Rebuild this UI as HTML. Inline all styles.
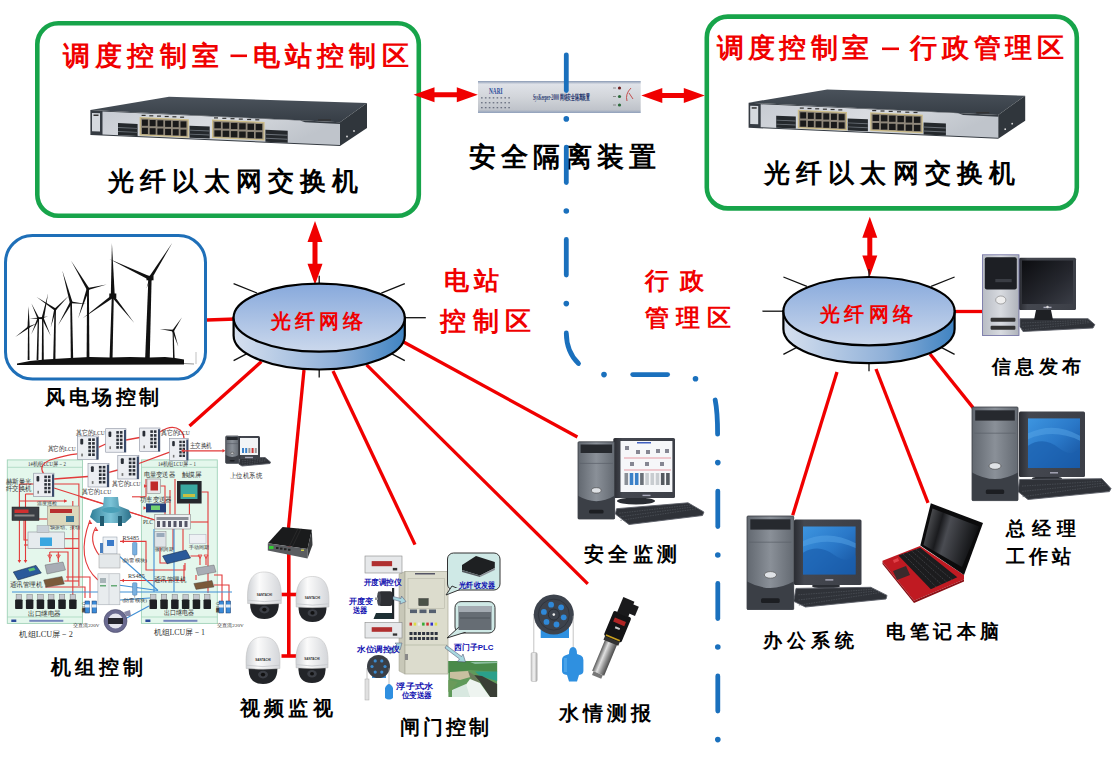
<!DOCTYPE html>
<html><head><meta charset="utf-8"><style>
html,body{margin:0;padding:0;background:#fff;}
body{width:1113px;height:762px;overflow:hidden;}
svg{display:block;font-family:"Liberation Sans",sans-serif;}
</style></head><body>
<svg width="1113" height="762" viewBox="0 0 1113 762">
<defs>
<linearGradient id="topA" x1="0" y1="0" x2="0" y2="1"><stop offset="0" stop-color="#87a9dc"/><stop offset="1" stop-color="#cbd8ec"/></linearGradient>
<linearGradient id="sideA" x1="0" y1="0" x2="1" y2="0"><stop offset="0" stop-color="#d6e0ef"/><stop offset="0.6" stop-color="#8fb0d8"/><stop offset="1" stop-color="#3f83c2"/></linearGradient>
<linearGradient id="swfront" x1="0" y1="0" x2="1" y2="0.3"><stop offset="0" stop-color="#c7cbd2"/><stop offset="0.5" stop-color="#d9dce1"/><stop offset="1" stop-color="#bfc4cb"/></linearGradient><linearGradient id="swtop" x1="0" y1="0" x2="0" y2="1"><stop offset="0" stop-color="#4a525b"/><stop offset="1" stop-color="#363d45"/></linearGradient>
<linearGradient id="silver" x1="0" y1="0" x2="0" y2="1"><stop offset="0" stop-color="#8a9ab4"/><stop offset="0.1" stop-color="#dfe2e8"/><stop offset="0.5" stop-color="#d2d5da"/><stop offset="0.9" stop-color="#bfc3ca"/><stop offset="1" stop-color="#8fa0bc"/></linearGradient>
</defs>

<rect x="37.3" y="23.3" width="381.5" height="192.5" rx="21" fill="#fff" stroke="#17a44a" stroke-width="4.6"/>
<rect x="706.8" y="16.6" width="370" height="191.8" rx="21" fill="#fff" stroke="#17a44a" stroke-width="4.6"/>
<text x="62.5" y="64.5" font-size="27.0" fill="#f00000" font-weight="bold" text-anchor="start" textLength="156.5" lengthAdjust="spacing" >调度控制室</text>
<rect x="230.5" y="54.5" width="16.5" height="2.6" fill="#f00000"/>
<text x="252.7" y="64.5" font-size="27.0" fill="#f00000" font-weight="bold" text-anchor="start" textLength="156.0" lengthAdjust="spacing" >电站控制区</text>
<text x="716.5" y="57.0" font-size="27.0" fill="#f00000" font-weight="bold" text-anchor="start" textLength="152.5" lengthAdjust="spacing" >调度控制室</text>
<rect x="882" y="47.5" width="17" height="2.6" fill="#f00000"/>
<text x="910.4" y="57.0" font-size="27.0" fill="#f00000" font-weight="bold" text-anchor="start" textLength="153.5" lengthAdjust="spacing" >行政管理区</text>
<polygon fill="url(#swtop)" points="90.4,110.0 169.0,96.8 367.0,103.0 340.0,122.3"/><polygon fill="#30363c" points="340.0,122.3 367.0,103.0 367.0,128.0 340.0,146.0"/><circle cx="347.0" cy="136.5" r="0.9" fill="#ddd"/><circle cx="354.0" cy="131.0" r="0.9" fill="#ddd"/><polygon fill="#353b42" points="90.4,110.0 340.0,122.3 340.0,146.0 90.4,135.0"/><polygon fill="url(#swfront)" points="102.5,111.6 300.0,120.5 305.0,122.2 340.0,124.0 340.0,145.0 102.5,134.5 102.5,111.6"/><polygon fill="#d5d9de" points="92.0,113.0 100.0,113.3 100.0,131.5 92.0,131.2"/><rect x="93.5" y="114.5" width="5" height="1.5" fill="#333"/><polygon fill="#24282c" points="118.0,123.0 137.6,123.9 137.6,135.9 118.0,135.0"/><polygon fill="#6a7077" points="118.0,127.0 137.6,127.9 137.6,128.8 118.0,127.9"/><polygon fill="#6a7077" points="118.0,131.0 137.6,131.9 137.6,132.8 118.0,131.9"/><polygon fill="#24282c" points="189.5,125.7 209.7,126.6 209.7,138.6 189.5,137.7"/><polygon fill="#6a7077" points="189.5,129.7 209.7,130.6 209.7,131.5 189.5,130.6"/><polygon fill="#6a7077" points="189.5,133.7 209.7,134.6 209.7,135.5 189.5,134.6"/><polygon fill="#24282c" points="265.4,129.8 287.7,130.8 287.7,142.8 265.4,141.8"/><polygon fill="#6a7077" points="265.4,133.8 287.7,134.8 287.7,135.7 265.4,134.7"/><polygon fill="#6a7077" points="265.4,137.8 287.7,138.8 287.7,139.7 265.4,138.7"/><polygon fill="#cdbd88" points="139.6,117.0 188.8,119.3 188.8,137.8 139.6,135.5"/><polygon fill="#8f877a" points="140.8,118.2 187.6,120.5 187.6,136.6 140.8,134.3"/><rect x="142.0" y="119.6" width="5.9" height="6.2" fill="#1a1a1a"/><rect x="149.7" y="120.0" width="5.9" height="6.2" fill="#1a1a1a"/><rect x="157.4" y="120.3" width="5.9" height="6.2" fill="#1a1a1a"/><rect x="165.1" y="120.7" width="5.9" height="6.2" fill="#1a1a1a"/><rect x="172.8" y="121.0" width="5.9" height="6.2" fill="#1a1a1a"/><rect x="180.5" y="121.4" width="5.9" height="6.2" fill="#1a1a1a"/><rect x="142.0" y="127.8" width="5.9" height="6.2" fill="#1a1a1a"/><rect x="149.7" y="128.2" width="5.9" height="6.2" fill="#1a1a1a"/><rect x="157.4" y="128.5" width="5.9" height="6.2" fill="#1a1a1a"/><rect x="165.1" y="128.9" width="5.9" height="6.2" fill="#1a1a1a"/><rect x="172.8" y="129.2" width="5.9" height="6.2" fill="#1a1a1a"/><rect x="180.5" y="129.6" width="5.9" height="6.2" fill="#1a1a1a"/><rect x="141.6" y="114.8" width="4" height="1.2" fill="#333"/><rect x="149.3" y="115.2" width="4" height="1.2" fill="#333"/><rect x="157.0" y="115.5" width="4" height="1.2" fill="#333"/><rect x="164.7" y="115.9" width="4" height="1.2" fill="#333"/><rect x="172.4" y="116.2" width="4" height="1.2" fill="#333"/><rect x="180.1" y="116.6" width="4" height="1.2" fill="#333"/><polygon fill="#cdbd88" points="212.0,119.5 264.6,122.0 264.6,140.5 212.0,138.0"/><polygon fill="#8f877a" points="213.2,120.7 263.4,123.2 263.4,139.3 213.2,136.8"/><rect x="214.4" y="122.1" width="6.5" height="6.2" fill="#1a1a1a"/><rect x="222.7" y="122.5" width="6.5" height="6.2" fill="#1a1a1a"/><rect x="230.9" y="122.9" width="6.5" height="6.2" fill="#1a1a1a"/><rect x="239.2" y="123.3" width="6.5" height="6.2" fill="#1a1a1a"/><rect x="247.5" y="123.7" width="6.5" height="6.2" fill="#1a1a1a"/><rect x="255.7" y="124.0" width="6.5" height="6.2" fill="#1a1a1a"/><rect x="214.4" y="130.3" width="6.5" height="6.2" fill="#1a1a1a"/><rect x="222.7" y="130.7" width="6.5" height="6.2" fill="#1a1a1a"/><rect x="230.9" y="131.1" width="6.5" height="6.2" fill="#1a1a1a"/><rect x="239.2" y="131.5" width="6.5" height="6.2" fill="#1a1a1a"/><rect x="247.5" y="131.9" width="6.5" height="6.2" fill="#1a1a1a"/><rect x="255.7" y="132.2" width="6.5" height="6.2" fill="#1a1a1a"/><rect x="214.0" y="117.3" width="4" height="1.2" fill="#333"/><rect x="222.3" y="117.7" width="4" height="1.2" fill="#333"/><rect x="230.5" y="118.1" width="4" height="1.2" fill="#333"/><rect x="238.8" y="118.5" width="4" height="1.2" fill="#333"/><rect x="247.1" y="118.9" width="4" height="1.2" fill="#333"/><rect x="255.3" y="119.2" width="4" height="1.2" fill="#333"/><rect x="318.0" y="119.3" width="13" height="1.4" fill="#333"/>
<polygon fill="url(#swtop)" points="748.6,102.7 827.2,89.5 1025.2,95.7 998.2,115.0"/><polygon fill="#30363c" points="998.2,115.0 1025.2,95.7 1025.2,120.7 998.2,138.7"/><circle cx="1005.2" cy="129.2" r="0.9" fill="#ddd"/><circle cx="1012.2" cy="123.7" r="0.9" fill="#ddd"/><polygon fill="#353b42" points="748.6,102.7 998.2,115.0 998.2,138.7 748.6,127.7"/><polygon fill="url(#swfront)" points="760.7,104.3 958.2,113.2 963.2,114.9 998.2,116.7 998.2,137.7 760.7,127.2 760.7,104.3"/><polygon fill="#d5d9de" points="750.2,105.7 758.2,106.0 758.2,124.2 750.2,123.9"/><rect x="751.7" y="107.2" width="5" height="1.5" fill="#333"/><polygon fill="#24282c" points="776.2,115.7 795.8,116.6 795.8,128.6 776.2,127.7"/><polygon fill="#6a7077" points="776.2,119.7 795.8,120.6 795.8,121.5 776.2,120.6"/><polygon fill="#6a7077" points="776.2,123.7 795.8,124.6 795.8,125.5 776.2,124.6"/><polygon fill="#24282c" points="847.7,118.4 867.9,119.3 867.9,131.3 847.7,130.4"/><polygon fill="#6a7077" points="847.7,122.4 867.9,123.3 867.9,124.2 847.7,123.3"/><polygon fill="#6a7077" points="847.7,126.4 867.9,127.3 867.9,128.2 847.7,127.3"/><polygon fill="#24282c" points="923.6,122.5 945.9,123.5 945.9,135.5 923.6,134.5"/><polygon fill="#6a7077" points="923.6,126.5 945.9,127.5 945.9,128.4 923.6,127.4"/><polygon fill="#6a7077" points="923.6,130.5 945.9,131.5 945.9,132.4 923.6,131.4"/><polygon fill="#cdbd88" points="797.8,109.7 847.0,112.0 847.0,130.5 797.8,128.2"/><polygon fill="#8f877a" points="799.0,110.9 845.8,113.2 845.8,129.3 799.0,127.0"/><rect x="800.2" y="112.3" width="5.9" height="6.2" fill="#1a1a1a"/><rect x="807.9" y="112.7" width="5.9" height="6.2" fill="#1a1a1a"/><rect x="815.6" y="113.0" width="5.9" height="6.2" fill="#1a1a1a"/><rect x="823.3" y="113.4" width="5.9" height="6.2" fill="#1a1a1a"/><rect x="831.0" y="113.7" width="5.9" height="6.2" fill="#1a1a1a"/><rect x="838.7" y="114.1" width="5.9" height="6.2" fill="#1a1a1a"/><rect x="800.2" y="120.5" width="5.9" height="6.2" fill="#1a1a1a"/><rect x="807.9" y="120.9" width="5.9" height="6.2" fill="#1a1a1a"/><rect x="815.6" y="121.2" width="5.9" height="6.2" fill="#1a1a1a"/><rect x="823.3" y="121.6" width="5.9" height="6.2" fill="#1a1a1a"/><rect x="831.0" y="121.9" width="5.9" height="6.2" fill="#1a1a1a"/><rect x="838.7" y="122.3" width="5.9" height="6.2" fill="#1a1a1a"/><rect x="799.8" y="107.5" width="4" height="1.2" fill="#333"/><rect x="807.5" y="107.9" width="4" height="1.2" fill="#333"/><rect x="815.2" y="108.2" width="4" height="1.2" fill="#333"/><rect x="822.9" y="108.6" width="4" height="1.2" fill="#333"/><rect x="830.6" y="108.9" width="4" height="1.2" fill="#333"/><rect x="838.3" y="109.3" width="4" height="1.2" fill="#333"/><polygon fill="#cdbd88" points="870.2,112.2 922.8,114.7 922.8,133.2 870.2,130.7"/><polygon fill="#8f877a" points="871.4,113.4 921.6,115.9 921.6,132.0 871.4,129.5"/><rect x="872.6" y="114.8" width="6.5" height="6.2" fill="#1a1a1a"/><rect x="880.9" y="115.2" width="6.5" height="6.2" fill="#1a1a1a"/><rect x="889.1" y="115.6" width="6.5" height="6.2" fill="#1a1a1a"/><rect x="897.4" y="116.0" width="6.5" height="6.2" fill="#1a1a1a"/><rect x="905.7" y="116.4" width="6.5" height="6.2" fill="#1a1a1a"/><rect x="913.9" y="116.7" width="6.5" height="6.2" fill="#1a1a1a"/><rect x="872.6" y="123.0" width="6.5" height="6.2" fill="#1a1a1a"/><rect x="880.9" y="123.4" width="6.5" height="6.2" fill="#1a1a1a"/><rect x="889.1" y="123.8" width="6.5" height="6.2" fill="#1a1a1a"/><rect x="897.4" y="124.2" width="6.5" height="6.2" fill="#1a1a1a"/><rect x="905.7" y="124.6" width="6.5" height="6.2" fill="#1a1a1a"/><rect x="913.9" y="124.9" width="6.5" height="6.2" fill="#1a1a1a"/><rect x="872.2" y="110.0" width="4" height="1.2" fill="#333"/><rect x="880.5" y="110.4" width="4" height="1.2" fill="#333"/><rect x="888.7" y="110.8" width="4" height="1.2" fill="#333"/><rect x="897.0" y="111.2" width="4" height="1.2" fill="#333"/><rect x="905.3" y="111.6" width="4" height="1.2" fill="#333"/><rect x="913.5" y="111.9" width="4" height="1.2" fill="#333"/><rect x="976.2" y="112.0" width="13" height="1.4" fill="#333"/>
<text x="108.0" y="190.0" font-size="26.0" fill="#000" font-weight="bold" text-anchor="start" textLength="250.0" lengthAdjust="spacing" >光纤以太网交换机</text>
<text x="764.0" y="182.0" font-size="26.0" fill="#000" font-weight="bold" text-anchor="start" textLength="251.0" lengthAdjust="spacing" >光纤以太网交换机</text>
<rect x="478" y="81" width="162.7" height="32" fill="url(#silver)"/>
<text x="489" y="93.5" font-size="7.5" fill="#2b4c9a" font-weight="bold" font-family="Liberation Serif" textLength="13.5" lengthAdjust="spacingAndGlyphs">NARI</text>
<text x="533" y="100" font-size="8" fill="#2a3a70" font-weight="bold" font-family="Liberation Serif" textLength="57" lengthAdjust="spacingAndGlyphs">SysKeeper-2000 网络安全隔离装置</text>
<rect x="481.0" y="97.2" width="1.6" height="1.3" fill="#6a7080"/>
<rect x="484.9" y="97.2" width="1.6" height="1.3" fill="#6a7080"/>
<rect x="488.8" y="97.2" width="1.6" height="1.3" fill="#6a7080"/>
<rect x="492.7" y="97.2" width="1.6" height="1.3" fill="#6a7080"/>
<rect x="496.6" y="97.2" width="1.6" height="1.3" fill="#6a7080"/>
<rect x="500.5" y="97.2" width="1.6" height="1.3" fill="#6a7080"/>
<rect x="504.4" y="97.2" width="1.6" height="1.3" fill="#6a7080"/>
<rect x="508.3" y="97.2" width="1.6" height="1.3" fill="#6a7080"/>
<rect x="481.0" y="102.1" width="1.6" height="1.3" fill="#6a7080"/>
<rect x="484.9" y="102.1" width="1.6" height="1.3" fill="#6a7080"/>
<rect x="488.8" y="102.1" width="1.6" height="1.3" fill="#6a7080"/>
<rect x="492.7" y="102.1" width="1.6" height="1.3" fill="#6a7080"/>
<rect x="496.6" y="102.1" width="1.6" height="1.3" fill="#6a7080"/>
<rect x="500.5" y="102.1" width="1.6" height="1.3" fill="#6a7080"/>
<rect x="504.4" y="102.1" width="1.6" height="1.3" fill="#6a7080"/>
<rect x="508.3" y="102.1" width="1.6" height="1.3" fill="#6a7080"/>
<rect x="481.0" y="107.0" width="1.6" height="1.3" fill="#6a7080"/>
<rect x="484.9" y="107.0" width="1.6" height="1.3" fill="#6a7080"/>
<rect x="488.8" y="107.0" width="1.6" height="1.3" fill="#6a7080"/>
<rect x="492.7" y="107.0" width="1.6" height="1.3" fill="#6a7080"/>
<rect x="496.6" y="107.0" width="1.6" height="1.3" fill="#6a7080"/>
<rect x="500.5" y="107.0" width="1.6" height="1.3" fill="#6a7080"/>
<rect x="504.4" y="107.0" width="1.6" height="1.3" fill="#6a7080"/>
<rect x="508.3" y="107.0" width="1.6" height="1.3" fill="#6a7080"/>
<circle cx="619.5" cy="88.0" r="1.6" fill="#702020"/>
<rect x="613" y="87.5" width="3" height="1" fill="#888"/>
<circle cx="619.5" cy="96.5" r="1.6" fill="#2a6a3a"/>
<rect x="613" y="96.0" width="3" height="1" fill="#888"/>
<circle cx="619.5" cy="105.0" r="1.6" fill="#2a6a3a"/>
<rect x="613" y="104.5" width="3" height="1" fill="#888"/>
<path d="M631,88 Q625,94 627,101 M629,93 L633,99" stroke="#c04040" stroke-width="0.9" fill="none"/>
<text x="469.0" y="165.5" font-size="27.0" fill="#000" font-weight="bold" text-anchor="start" textLength="187.0" lengthAdjust="spacing" >安全隔离装置</text>
<polygon fill="#f00000" points="413.5,94.8 434.5,87.3 434.5,92.3 456.8,92.3 456.8,87.3 477.8,94.8 456.8,102.3 456.8,97.3 434.5,97.3 434.5,102.3"/>
<polygon fill="#f00000" points="641.3,95.5 662.3,88.0 662.3,93.0 683.8,93.0 683.8,88.0 704.8,95.5 683.8,103.0 683.8,98.0 662.3,98.0 662.3,103.0"/>
<polygon fill="#f00000" points="315.0,221.0 322.5,242.0 317.5,242.0 317.5,263.7 322.5,263.7 315.0,284.7 307.5,263.7 312.5,263.7 312.5,242.0 307.5,242.0"/>
<polygon fill="#f00000" points="869.8,216.7 877.3,237.7 872.3,237.7 872.3,255.5 877.3,255.5 869.8,276.5 862.3,255.5 867.3,255.5 867.3,237.7 862.3,237.7"/>
<path stroke="#1a70bd" stroke-width="4.8" stroke-linecap="round" fill="none" d="M566.3,54.8 L566.3,90.6"/>
<path stroke="#1a70bd" stroke-width="4.8" stroke-linecap="round" fill="none" d="M566.3,147.1 L566.3,182.6"/>
<path stroke="#1a70bd" stroke-width="4.8" stroke-linecap="round" fill="none" d="M566.3,239.4 L566.3,275.0"/>
<circle cx="566.3" cy="118.9" r="2.8" fill="#1a70bd"/>
<circle cx="566.3" cy="211.0" r="2.8" fill="#1a70bd"/>
<circle cx="566.3" cy="303.6" r="2.8" fill="#1a70bd"/>
<path stroke="#1a70bd" stroke-width="4.8" stroke-linecap="round" fill="none" d="M566.3,333 Q566.5,352 578.5,363.5"/>
<circle cx="604" cy="374.6" r="2.8" fill="#1a70bd"/>
<path stroke="#1a70bd" stroke-width="4.8" stroke-linecap="round" fill="none" d="M632.7,374.6 L667.6,374.6"/>
<circle cx="695.5" cy="378.8" r="2.8" fill="#1a70bd"/>
<path stroke="#1a70bd" stroke-width="4.8" stroke-linecap="round" fill="none" d="M715.2,400 Q717.6,412 717.6,434.2"/>
<path stroke="#1a70bd" stroke-width="4.8" stroke-linecap="round" fill="none" d="M717.8,491.1 L717.8,526.6"/>
<path stroke="#1a70bd" stroke-width="4.8" stroke-linecap="round" fill="none" d="M717.8,583.4 L717.8,618.6"/>
<path stroke="#1a70bd" stroke-width="4.8" stroke-linecap="round" fill="none" d="M717.8,675.9 L717.8,711.1"/>
<circle cx="717.8" cy="462.6" r="2.8" fill="#1a70bd"/>
<circle cx="717.8" cy="555.0" r="2.8" fill="#1a70bd"/>
<circle cx="717.8" cy="647.0" r="2.8" fill="#1a70bd"/>
<circle cx="717.8" cy="739.6" r="2.8" fill="#1a70bd"/>
<text x="444.0" y="289.0" font-size="25.0" fill="#f00000" font-weight="bold" text-anchor="start" textLength="55.0" lengthAdjust="spacing" >电站</text>
<text x="440.0" y="329.5" font-size="25.5" fill="#f00000" font-weight="bold" text-anchor="start" textLength="91.0" lengthAdjust="spacing" >控制区</text>
<text x="644.5" y="288.5" font-size="24.0" fill="#f00000" font-weight="bold" text-anchor="start" textLength="59.5" lengthAdjust="spacing" >行政</text>
<text x="644.5" y="325.5" font-size="24.0" fill="#f00000" font-weight="bold" text-anchor="start" textLength="86.5" lengthAdjust="spacing" >管理区</text>
<path stroke="#f00000" stroke-width="3.3" fill="none" d="M207,320 L236,319"/>
<path stroke="#f00000" stroke-width="3.3" fill="none" d="M261.5,361.5 L189.5,426"/>
<path stroke="#f00000" stroke-width="3.3" fill="none" d="M304,370 L288.5,528"/>
<path stroke="#f00000" stroke-width="3.3" fill="none" d="M333,371 L415,544.6"/>
<path stroke="#f00000" stroke-width="3.3" fill="none" d="M366.6,364.8 L587.8,583.8"/>
<path stroke="#f00000" stroke-width="3.3" fill="none" d="M400,340 L577.4,437"/>
<path stroke="#f00000" stroke-width="3.3" fill="none" d="M954,311.5 L982,311.5"/>
<path stroke="#f00000" stroke-width="3.3" fill="none" d="M837,372 L792.7,515.3"/>
<path stroke="#f00000" stroke-width="3.3" fill="none" d="M876,369 L928,502.8"/>
<path stroke="#f00000" stroke-width="3.3" fill="none" d="M930,354 L973,407.6"/>
<line stroke="#111" stroke-width="1.3" x1="319.2" y1="275.7" x2="319.2" y2="283.7"/><line stroke="#111" stroke-width="1.3" x1="233.6" y1="283.7" x2="257.1" y2="293.1"/><line stroke="#111" stroke-width="1.3" x1="404.8" y1="283.7" x2="381.3" y2="293.1"/><line stroke="#111" stroke-width="1.3" x1="425.8" y1="317.7" x2="404.8" y2="317.7"/><line stroke="#111" stroke-width="1.3" x1="233.6" y1="360.7" x2="247.0" y2="353.7"/><line stroke="#111" stroke-width="1.3" x1="404.8" y1="360.7" x2="391.4" y2="353.7"/><line stroke="#111" stroke-width="1.3" x1="319.2" y1="369.5" x2="319.2" y2="377.5"/>
<line stroke="#111" stroke-width="1.3" x1="869.0" y1="269.0" x2="869.0" y2="277.0"/><line stroke="#111" stroke-width="1.3" x1="783.4" y1="277.0" x2="806.9" y2="286.4"/><line stroke="#111" stroke-width="1.3" x1="954.6" y1="277.0" x2="931.1" y2="286.4"/><line stroke="#111" stroke-width="1.3" x1="762.4" y1="311.2" x2="783.4" y2="311.2"/><line stroke="#111" stroke-width="1.3" x1="783.4" y1="354.4" x2="796.8" y2="347.4"/><line stroke="#111" stroke-width="1.3" x1="954.6" y1="354.4" x2="941.2" y2="347.4"/><line stroke="#111" stroke-width="1.3" x1="869.0" y1="363.2" x2="869.0" y2="371.2"/>
<path d="M233.6,317.7 L233.6,335.5 A85.6,34.0 0 0 0 404.8,335.5 L404.8,317.7 Z" fill="url(#sideA)" stroke="#000" stroke-width="2.2"/><ellipse cx="319.2" cy="317.7" rx="85.6" ry="34.0" fill="url(#topA)" stroke="#000" stroke-width="2.2"/>
<path d="M783.4,311.2 L783.4,329.0 A85.6,34.2 0 0 0 954.6,329.0 L954.6,311.2 Z" fill="url(#sideA)" stroke="#000" stroke-width="2.2"/><ellipse cx="869.0" cy="311.2" rx="85.6" ry="34.2" fill="url(#topA)" stroke="#000" stroke-width="2.2"/>
<text x="271.0" y="327.5" font-size="20.0" fill="#f00000" font-weight="bold" text-anchor="start" textLength="92.0" lengthAdjust="spacing" >光纤网络</text>
<text x="820.0" y="320.5" font-size="20.0" fill="#f00000" font-weight="bold" text-anchor="start" textLength="93.0" lengthAdjust="spacing" >光纤网络</text>
<rect x="5.5" y="235.5" width="200" height="143.5" rx="27" fill="#fff" stroke="#1e6fb8" stroke-width="3"/>
<g>
<polygon fill="#111" points="28.0,327.2 29.2,327.2 29.5,360.0 27.7,360.0"/><polygon fill="#111" points="28.0,326.4 29.2,327.9 15.3,336.9"/><polygon fill="#111" points="29.7,327.2 27.5,327.2 28.6,305.9"/><polygon fill="#111" points="28.9,327.8 28.3,326.5 36.6,323.6"/><circle cx="28.6" cy="327.2" r="1.0" fill="#111"/>
<polygon fill="#111" points="37.8,318.3 39.0,318.3 38.4,360.0 36.6,360.0"/><polygon fill="#111" points="39.2,317.9 37.5,318.7 31.3,303.2"/><polygon fill="#111" points="38.5,319.1 38.2,317.5 48.1,316.5"/><polygon fill="#111" points="37.5,317.9 39.3,318.7 31.3,334.3"/><circle cx="38.4" cy="318.3" r="1.0" fill="#111"/>
<polygon fill="#111" points="42.1,318.3 43.4,318.3 43.8,360.0 41.8,360.0"/><polygon fill="#111" points="44.0,318.6 41.6,318.1 48.1,293.5"/><polygon fill="#111" points="41.8,318.7 43.7,317.9 50.8,336.0"/><polygon fill="#111" points="42.8,317.4 42.8,319.2 29.5,318.3"/><circle cx="42.8" cy="318.3" r="1.0" fill="#111"/>
<polygon fill="#111" points="54.5,309.4 55.9,309.4 55.4,360.0 53.2,360.0"/><polygon fill="#111" points="55.8,308.5 54.6,310.4 36.6,297.0"/><polygon fill="#111" points="55.9,310.2 54.5,308.7 68.5,296.1"/><polygon fill="#111" points="54.2,309.2 56.2,309.7 50.8,327.2"/><circle cx="55.2" cy="309.4" r="1.0" fill="#111"/>
<polygon fill="#111" points="70.3,302.4 71.9,302.4 73.2,360.0 70.8,360.0"/><polygon fill="#111" points="72.5,302.0 69.8,302.7 62.3,270.4"/><polygon fill="#111" points="71.0,303.3 71.3,301.4 86.2,304.1"/><polygon fill="#111" points="70.1,301.7 72.2,303.0 57.9,325.4"/><circle cx="71.1" cy="302.4" r="1.1" fill="#111"/>
<polygon fill="#111" points="87.1,289.1 88.9,289.1 89.4,360.0 86.6,360.0"/><polygon fill="#111" points="89.2,288.3 86.8,289.8 71.1,260.7"/><polygon fill="#111" points="88.2,290.1 87.7,288.1 106.6,284.6"/><polygon fill="#111" points="86.7,288.6 89.3,289.5 78.2,318.3"/><circle cx="88.0" cy="289.1" r="1.3" fill="#111"/>
<polygon fill="#111" points="111.8,296.1 113.8,296.1 112.5,360.0 109.5,360.0"/><polygon fill="#111" points="114.8,296.1 110.8,296.2 111.9,243.0"/><polygon fill="#111" points="111.7,297.1 113.9,295.2 134.1,322.7"/><polygon fill="#111" points="111.9,294.9 113.7,297.4 82.7,318.3"/><circle cx="112.8" cy="296.1" r="1.4" fill="#111"/>
<polygon fill="#111" points="148.4,278.4 151.6,278.4 149.7,360.0 145.1,360.0"/><polygon fill="#111" points="151.4,279.3 148.6,277.5 172.2,243.0"/><polygon fill="#111" points="150.8,276.8 149.3,280.0 109.3,258.9"/><polygon fill="#111" points="149.3,278.2 150.8,278.7 146.5,288.2"/><circle cx="150.0" cy="278.4" r="2.2" fill="#111"/>
<rect x="146.5" y="275.8" width="7" height="4.5" fill="#111"/>
<polygon fill="#111" points="172.6,330.7 173.6,330.7 174.7,360.0 173.1,360.0"/><polygon fill="#111" points="173.9,331.2 172.3,330.2 181.9,317.4"/><polygon fill="#111" points="173.2,329.8 172.9,331.6 159.8,328.9"/><polygon fill="#111" points="172.1,331.0 174.0,330.4 178.4,346.7"/><circle cx="173.1" cy="330.7" r="1.0" fill="#111"/>
<path fill="#111" d="M17,363.5 L30,361 L45,359.5 L70,358 L90,357 L110,357.5 L130,357 L150,357.5 L165,357 L175,358 L184,359.5 L184,364.5 L17,365 Z"/>
<rect x="109.3" y="293.5" width="7" height="4.5" fill="#111"/>
<line x1="184" y1="363.5" x2="194" y2="364" stroke="#777" stroke-width="0.8"/><line x1="196" y1="352" x2="196" y2="364" stroke="#999" stroke-width="0.6"/>
</g>
<text x="45.0" y="404.0" font-size="19.5" fill="#000" font-weight="bold" text-anchor="start" textLength="114.0" lengthAdjust="spacing" >风电场控制</text>
<defs>
<linearGradient id="bluescr" x1="0" y1="0" x2="1" y2="1"><stop offset="0" stop-color="#3d95e0"/><stop offset="0.5" stop-color="#2a78c8"/><stop offset="1" stop-color="#144f9a"/></linearGradient>
<linearGradient id="blackscr" x1="0" y1="0" x2="1" y2="1"><stop offset="0" stop-color="#0c0d10"/><stop offset="0.6" stop-color="#25272e"/><stop offset="1" stop-color="#3a3d46"/></linearGradient>
<linearGradient id="towerg" x1="0" y1="0" x2="1" y2="0"><stop offset="0" stop-color="#626870"/><stop offset="0.5" stop-color="#8a9098"/><stop offset="1" stop-color="#646a72"/></linearGradient><linearGradient id="monfr" x1="0" y1="0" x2="1" y2="0"><stop offset="0" stop-color="#2a2c32"/><stop offset="0.15" stop-color="#44474f"/><stop offset="1" stop-color="#3c3f47"/></linearGradient><linearGradient id="silvtw" x1="0" y1="0" x2="1" y2="0"><stop offset="0" stop-color="#b8bcc4"/><stop offset="0.5" stop-color="#d8dbe0"/><stop offset="1" stop-color="#aeb2ba"/></linearGradient>
</defs>
<polygon fill="#2f3238" stroke="#5a5e66" stroke-width="0.9" points="1020.0,318.7 1088.0,318.7 1094.8,324.6 1093.0,328.0 1023.0,331.5 1020.0,326.6"/><line x1="1022.2" y1="323.0" x2="1087.7" y2="320.2" stroke="#555a62" stroke-width="0.6" stroke-dasharray="1.5,1"/><line x1="1022.4" y1="326.4" x2="1089.1" y2="321.4" stroke="#555a62" stroke-width="0.6" stroke-dasharray="1.5,1"/><line x1="1022.6" y1="329.8" x2="1090.4" y2="322.5" stroke="#555a62" stroke-width="0.6" stroke-dasharray="1.5,1"/><rect x="1019.0" y="257.7" width="57.0" height="52.3" fill="url(#monfr)" rx="1.5"/><rect x="1022.0" y="260.5" width="51.0" height="43.5" fill="url(#blackscr)"/><rect x="1043.5" y="306.7" width="8.0" height="1.4" fill="#aab"/><rect x="982.6" y="254.8" width="36.4" height="80.7" fill="url(#silvtw)" stroke="#6a6aa0" stroke-width="0.8"/><rect x="984.8" y="257.2" width="32.0" height="32.3" fill="#1d1f24" rx="2"/><rect x="995.3" y="279.0" width="16.4" height="3.2" fill="#3a3d44"/><ellipse cx="1000.8" cy="300.0" rx="5.1" ry="4.0" fill="#eee" stroke="#777" stroke-width="0.6"/><rect x="990.6" y="317.7" width="24.8" height="4.0" fill="#333" rx="1"/><rect x="990.6" y="325.8" width="24.8" height="4.0" fill="#333" rx="1"/>
<polygon fill="#1e2024" points="1036,310 1051,310 1053,320 1034,320"/>
<circle cx="1047.5" cy="307" r="1.2" fill="#ddd"/>
<text x="991.5" y="373.0" font-size="19.0" fill="#000" font-weight="bold" text-anchor="start" textLength="89.5" lengthAdjust="spacing" >信息发布</text>
<ellipse cx="1047.0" cy="478.5" rx="15.0" ry="2.5" fill="#2a2d33"/><polygon fill="#2f3238" stroke="#5a5e66" stroke-width="0.9" points="1019.6,479.5 1101.8,478.7 1111.0,488.6 1109.4,491.6 1028.0,499.5 1018.0,491.6"/><line x1="1022.0" y1="486.1" x2="1102.1" y2="481.2" stroke="#555a62" stroke-width="0.6" stroke-dasharray="1.5,1"/><line x1="1022.2" y1="491.4" x2="1103.9" y2="483.2" stroke="#555a62" stroke-width="0.6" stroke-dasharray="1.5,1"/><line x1="1022.5" y1="496.7" x2="1105.8" y2="485.1" stroke="#555a62" stroke-width="0.6" stroke-dasharray="1.5,1"/><rect x="1019.0" y="411.6" width="66.0" height="65.4" fill="url(#monfr)" rx="1.5"/><rect x="1028.0" y="418.4" width="52.0" height="49.6" fill="url(#bluescr)"/><path d="M1028.0,445.7 Q1043.6,435.8 1059.2,448.2 Q1072.2,458.1 1080.0,448.2 L1080.0,468.0 L1028.0,468.0 Z" fill="#1b5fae" opacity="0.7"/><path d="M1028.0,433.3 Q1054.0,420.9 1080.0,435.8 L1080.0,440.7 Q1054.0,428.3 1028.0,439.2 Z" fill="#5aa8e8" opacity="0.45"/><rect x="1050.0" y="472.1" width="8.0" height="1.4" fill="#aab"/><rect x="972.0" y="407.0" width="46.0" height="93.6" fill="url(#towerg)" stroke="#3a3d44" stroke-width="0.8" rx="1"/><rect x="975.2" y="410.3" width="39.6" height="10.3" fill="#26292e"/><line x1="974.3" y1="433.2" x2="1015.7" y2="433.2" stroke="#5a6068" stroke-width="0.7"/><path d="M972.0,472.5 Q995.0,485.6 1018.0,472.5 L1018.0,500.6 L972.0,500.6 Z" fill="#3b3f46"/><ellipse cx="995.0" cy="466.0" rx="6.0" ry="3.3" fill="#dfe2e6" stroke="#444" stroke-width="0.6"/><rect x="985.8" y="489.4" width="18.4" height="4.7" rx="1.5" fill="#1c1e22"/>
<text x="1006.0" y="535.0" font-size="19.0" fill="#000" font-weight="bold" text-anchor="start" textLength="70.0" lengthAdjust="spacing" >总经理</text>
<text x="1006.0" y="563.0" font-size="19.0" fill="#000" font-weight="bold" text-anchor="start" textLength="65.0" lengthAdjust="spacing" >工作站</text>
<ellipse cx="826.0" cy="586.0" rx="14.0" ry="2.5" fill="#2a2d33"/><polygon fill="#2f3238" stroke="#5a5e66" stroke-width="0.9" points="796.0,588.4 870.8,587.3 887.0,595.4 886.0,599.0 805.4,607.0 793.7,601.3"/><line x1="798.3" y1="594.8" x2="872.8" y2="589.3" stroke="#555a62" stroke-width="0.6" stroke-dasharray="1.5,1"/><line x1="798.5" y1="600.0" x2="876.1" y2="590.9" stroke="#555a62" stroke-width="0.6" stroke-dasharray="1.5,1"/><line x1="798.8" y1="605.2" x2="879.3" y2="592.6" stroke="#555a62" stroke-width="0.6" stroke-dasharray="1.5,1"/><rect x="794.0" y="519.5" width="67.5" height="65.5" fill="url(#monfr)" rx="1.5"/><rect x="803.0" y="526.5" width="52.6" height="47.9" fill="url(#bluescr)"/><path d="M803.0,552.8 Q818.8,543.3 834.6,555.2 Q847.7,564.8 855.6,555.2 L855.6,574.4 L803.0,574.4 Z" fill="#1b5fae" opacity="0.7"/><path d="M803.0,540.9 Q829.3,528.9 855.6,543.3 L855.6,548.1 Q829.3,536.1 803.0,546.6 Z" fill="#5aa8e8" opacity="0.45"/><rect x="825.3" y="579.2" width="8.0" height="1.4" fill="#aab"/><rect x="747.0" y="516.0" width="46.7" height="93.5" fill="url(#towerg)" stroke="#3a3d44" stroke-width="0.8" rx="1"/><rect x="750.3" y="519.3" width="40.2" height="10.3" fill="#26292e"/><line x1="749.3" y1="542.2" x2="791.4" y2="542.2" stroke="#5a6068" stroke-width="0.7"/><path d="M747.0,581.5 Q770.4,594.5 793.7,581.5 L793.7,609.5 L747.0,609.5 Z" fill="#3b3f46"/><ellipse cx="770.4" cy="574.9" rx="6.1" ry="3.3" fill="#dfe2e6" stroke="#444" stroke-width="0.6"/><rect x="761.0" y="598.3" width="18.7" height="4.7" rx="1.5" fill="#1c1e22"/>
<text x="763.4" y="647.0" font-size="19.0" fill="#000" font-weight="bold" text-anchor="start" textLength="91.0" lengthAdjust="spacing" >办公系统</text>
<defs><linearGradient id="lapscr" x1="0" y1="0" x2="1" y2="0.3"><stop offset="0" stop-color="#6a6c70"/><stop offset="0.35" stop-color="#1a1b1e"/><stop offset="0.5" stop-color="#4a4c52"/><stop offset="1" stop-color="#101113"/></linearGradient></defs>
<polygon fill="#c01a22" points="882.5,560.7 920,546 964,575 964,579.5 914,600.7 882.5,562"/>
<polygon fill="#8a1016" points="882.5,562 914,600.7 964,579.5 964,581.5 914,603 882.5,564"/>
<polygon fill="#1c1c1e" points="898.4,555.4 920.3,547.8 957.3,577.3 930.8,589.3"/>
<line x1="902.8" y1="553.9" x2="936.1" y2="586.9" stroke="#55575c" stroke-width="0.6" stroke-dasharray="1.4,1"/>
<line x1="907.2" y1="552.4" x2="941.4" y2="584.5" stroke="#55575c" stroke-width="0.6" stroke-dasharray="1.4,1"/>
<line x1="911.5" y1="550.8" x2="946.7" y2="582.1" stroke="#55575c" stroke-width="0.6" stroke-dasharray="1.4,1"/>
<line x1="915.9" y1="549.3" x2="952.0" y2="579.7" stroke="#55575c" stroke-width="0.6" stroke-dasharray="1.4,1"/>
<polygon fill="#3a2a2c" points="893,571 906,566 910,575 897,580"/>
<polygon fill="#e04048" points="893,560 898,558 899,561 894,563"/>
<polygon fill="#0b0b0c" points="930.8,503.3 983,523 964,575 920.3,545.6"/>
<polygon fill="url(#lapscr)" points="932.5,508.5 979,526.5 962,567 923.5,545"/>
<text x="886.0" y="638.0" font-size="19.0" fill="#000" font-weight="bold" text-anchor="start" textLength="113.0" lengthAdjust="spacing" >电笔记本脑</text>
<ellipse cx="636.0" cy="501.0" rx="19.0" ry="3.5" fill="#2a2d33"/><polygon fill="#2f3238" stroke="#5a5e66" stroke-width="0.9" points="616.6,508.7 688.0,502.8 703.9,512.0 702.5,515.5 629.0,524.5 615.3,514.0"/><line x1="619.3" y1="513.2" x2="690.0" y2="505.1" stroke="#555a62" stroke-width="0.6" stroke-dasharray="1.5,1"/><line x1="619.9" y1="516.8" x2="693.2" y2="506.9" stroke="#555a62" stroke-width="0.6" stroke-dasharray="1.5,1"/><line x1="620.4" y1="520.4" x2="696.3" y2="508.8" stroke="#555a62" stroke-width="0.6" stroke-dasharray="1.5,1"/><rect x="613.3" y="437.9" width="61.7" height="60.1" fill="url(#monfr)" rx="1.5"/><rect x="620.5" y="441.0" width="51.9" height="51.0" fill="#f6f7f9"/><rect x="642.5" y="494.7" width="8.0" height="1.4" fill="#aab"/><rect x="578.0" y="441.8" width="36.6" height="77.2" fill="url(#towerg)" stroke="#3a3d44" stroke-width="0.8" rx="1"/><rect x="580.6" y="444.5" width="31.5" height="8.5" fill="#26292e"/><line x1="579.8" y1="463.4" x2="612.8" y2="463.4" stroke="#5a6068" stroke-width="0.7"/><path d="M578.0,495.8 Q596.3,506.6 614.6,495.8 L614.6,519.0 L578.0,519.0 Z" fill="#3b3f46"/><ellipse cx="596.3" cy="490.4" rx="4.8" ry="2.7" fill="#dfe2e6" stroke="#444" stroke-width="0.6"/><rect x="589.0" y="509.7" width="14.6" height="3.9" rx="1.5" fill="#1c1e22"/>
<rect x="624.5" y="473" width="3.6" height="12" fill="#8a8f96"/>
<rect x="629.7" y="473" width="3.6" height="12" fill="#3a80c8"/>
<rect x="634.9" y="473" width="3.6" height="12" fill="#3a80c8"/>
<rect x="640.1" y="473" width="3.6" height="12" fill="#6a7078"/>
<rect x="645.3" y="473" width="3.6" height="12" fill="#c8ccd0"/>
<rect x="650.5" y="473" width="3.6" height="12" fill="#c8ccd0"/>
<rect x="655.7" y="473" width="3.6" height="12" fill="#c8ccd0"/>
<rect x="660.9" y="473" width="3.6" height="12" fill="#555a60"/>
<rect x="666.1" y="473" width="3.6" height="12" fill="#555a60"/>
<line x1="624" y1="458" x2="671" y2="458" stroke="#e07080" stroke-width="0.7"/>
<line x1="624" y1="470" x2="671" y2="470" stroke="#e07080" stroke-width="0.7"/>
<rect x="625.0" y="446.0" width="4" height="4" fill="#556" opacity="0.7"/>
<rect x="636.0" y="450.0" width="4" height="4" fill="#556" opacity="0.7"/>
<rect x="646.0" y="450.0" width="4" height="4" fill="#556" opacity="0.7"/>
<rect x="656.0" y="449.0" width="4" height="4" fill="#556" opacity="0.7"/>
<rect x="665.0" y="449.0" width="4" height="4" fill="#556" opacity="0.7"/>
<rect x="630.0" y="462.0" width="4" height="4" fill="#556" opacity="0.7"/>
<rect x="645.0" y="462.0" width="4" height="4" fill="#556" opacity="0.7"/>
<rect x="660.0" y="462.0" width="4" height="4" fill="#556" opacity="0.7"/>
<rect x="637" y="442" width="14" height="1.5" fill="#4060c0"/>
<text x="584.0" y="561.0" font-size="19.5" fill="#000" font-weight="bold" text-anchor="start" textLength="93.0" lengthAdjust="spacing" >安全监测</text>
<line x1="288.8" y1="528" x2="288.8" y2="657" stroke="#f00000" stroke-width="3.6"/>
<line x1="281.5" y1="594.5" x2="296.5" y2="594.5" stroke="#f00000" stroke-width="3.6"/>
<line x1="281.5" y1="656" x2="296.5" y2="656" stroke="#f00000" stroke-width="3.6"/>
<polygon fill="#1a1b1c" points="282.6,527 311.8,529.8 307.5,549.1 267.8,543.2"/>
<line x1="298" y1="528.5" x2="289" y2="547" stroke="#333" stroke-width="0.6"/><line x1="301" y1="528.8" x2="292" y2="547.4" stroke="#333" stroke-width="0.6"/>
<polygon fill="#5a5d60" points="267.8,543.2 307.5,549.1 307.5,558.6 267.8,550.5"/>
<polygon fill="#3a3c3e" points="311.8,529.8 312.5,545 307.5,558.6 307.5,549.1"/>
<rect x="269" y="546" width="4.5" height="3" fill="#3c3"/>
<rect x="276.0" y="547.0" width="2.5" height="2" fill="#222"/>
<rect x="280.0" y="547.6" width="2.5" height="2" fill="#222"/>
<rect x="284.0" y="548.2" width="2.5" height="2" fill="#222"/>
<rect x="288.0" y="548.8" width="2.5" height="2" fill="#222"/>
<rect x="301" y="549.5" width="3" height="1.5" fill="#cc4"/>
<defs><linearGradient id="domeg" x1="0" y1="0" x2="1" y2="0"><stop offset="0" stop-color="#cfd2d6"/><stop offset="0.35" stop-color="#fbfbfb"/><stop offset="1" stop-color="#d4d6da"/></linearGradient></defs>
<path d="M250.1,602.1 L278.8,602.1 Q279.5,619.0 264.4,619.0 Q249.4,619.0 250.1,602.1 Z" fill="#222428"/><ellipse cx="264.4" cy="609.6" rx="5.0" ry="3.8" fill="#3c3f46"/><ellipse cx="264.4" cy="609.6" rx="2.2" ry="1.9" fill="#111"/><path d="M247.6,601.1 C246.5,577.6 254.4,572.0 264.4,572.0 C274.5,572.0 282.4,577.6 281.3,601.1 L281.3,603.5 Q264.4,604.9 247.6,603.5 Z" fill="url(#domeg)" stroke="#b8b8b8" stroke-width="0.5"/><path d="M247.9,600.2 Q264.4,603.0 281.0,600.2" stroke="#c4c6ca" stroke-width="0.8" fill="none"/><text x="264.4" y="595.5" font-size="3" fill="#333" text-anchor="middle" font-weight="bold">SANTACHI</text>
<path d="M298.5,605.6 L326.5,605.6 Q327.2,622.0 312.5,622.0 Q297.8,622.0 298.5,605.6 Z" fill="#222428"/><ellipse cx="312.5" cy="612.9" rx="4.9" ry="3.6" fill="#3c3f46"/><ellipse cx="312.5" cy="612.9" rx="2.1" ry="1.8" fill="#111"/><path d="M296.1,604.7 C295.0,582.0 302.7,576.5 312.5,576.5 C322.3,576.5 330.0,582.0 328.9,604.7 L328.9,607.0 Q312.5,608.4 296.1,607.0 Z" fill="url(#domeg)" stroke="#b8b8b8" stroke-width="0.5"/><path d="M296.4,603.8 Q312.5,606.5 328.6,603.8" stroke="#c4c6ca" stroke-width="0.8" fill="none"/><text x="312.5" y="599.2" font-size="3" fill="#333" text-anchor="middle" font-weight="bold">SANTACHI</text>
<path d="M248.6,667.1 L277.4,667.1 Q278.1,684.0 263.0,684.0 Q247.9,684.0 248.6,667.1 Z" fill="#222428"/><ellipse cx="263.0" cy="674.6" rx="5.0" ry="3.8" fill="#3c3f46"/><ellipse cx="263.0" cy="674.6" rx="2.2" ry="1.9" fill="#111"/><path d="M246.1,666.1 C245.0,642.6 252.9,637.0 263.0,637.0 C273.1,637.0 281.0,642.6 279.9,666.1 L279.9,668.5 Q263.0,669.9 246.1,668.5 Z" fill="url(#domeg)" stroke="#b8b8b8" stroke-width="0.5"/><path d="M246.4,665.2 Q263.0,668.0 279.6,665.2" stroke="#c4c6ca" stroke-width="0.8" fill="none"/><text x="263.0" y="660.5" font-size="3" fill="#333" text-anchor="middle" font-weight="bold">SANTACHI</text>
<path d="M298.4,666.4 L325.6,666.4 Q326.3,683.0 312.0,683.0 Q297.7,683.0 298.4,666.4 Z" fill="#222428"/><ellipse cx="312.0" cy="673.8" rx="4.8" ry="3.7" fill="#3c3f46"/><ellipse cx="312.0" cy="673.8" rx="2.0" ry="1.8" fill="#111"/><path d="M296.0,665.5 C295.0,642.5 302.5,637.0 312.0,637.0 C321.5,637.0 329.0,642.5 328.0,665.5 L328.0,667.8 Q312.0,669.2 296.0,667.8 Z" fill="url(#domeg)" stroke="#b8b8b8" stroke-width="0.5"/><path d="M296.4,664.6 Q312.0,667.4 327.6,664.6" stroke="#c4c6ca" stroke-width="0.8" fill="none"/><text x="312.0" y="660.0" font-size="3" fill="#333" text-anchor="middle" font-weight="bold">SANTACHI</text>
<text x="239.5" y="714.5" font-size="19.5" fill="#000" font-weight="bold" text-anchor="start" textLength="93.0" lengthAdjust="spacing" >视频监视</text>
<polygon fill="#c8c8b8" stroke="#a0a090" stroke-width="0.5" points="399,574 405,571.5 405,674 399,671"/>
<rect x="405" y="571.5" width="43" height="102.5" fill="#dcdccd" stroke="#a8a898" stroke-width="0.7"/>
<rect x="408" y="578.5" width="36.5" height="30" fill="none" stroke="#b8b8a8" stroke-width="0.6"/>
<rect x="415" y="573" width="20" height="1.5" fill="#556"/>
<rect x="418.8" y="598.6" width="9.4" height="7" fill="#4a5248" stroke="#333" stroke-width="0.5"/>
<rect x="410.0" y="609.5" width="7" height="3.6" fill="#556070"/>
<rect x="419.5" y="609.5" width="7" height="3.6" fill="#556070"/>
<rect x="429.0" y="609.5" width="7" height="3.6" fill="#556070"/>
<rect x="409.5" y="622.6" width="2.5" height="3" fill="#c33"/>
<rect x="413.7" y="622.6" width="2.5" height="3" fill="#dd4"/>
<rect x="417.9" y="622.6" width="2.5" height="3" fill="#eee"/>
<rect x="422.1" y="622.6" width="2.5" height="3" fill="#3a3"/>
<rect x="426.3" y="622.6" width="2.5" height="3" fill="#c33"/>
<rect x="430.5" y="622.6" width="2.5" height="3" fill="#33c"/>
<rect x="434.7" y="622.6" width="2.5" height="3" fill="#dd4"/>
<rect x="409.5" y="632.0" width="3" height="3" fill="#2e3440"/>
<rect x="413.7" y="632.0" width="3" height="3" fill="#2e3440"/>
<rect x="417.9" y="632.0" width="3" height="3" fill="#2e3440"/>
<rect x="422.1" y="632.0" width="3" height="3" fill="#2e3440"/>
<rect x="426.3" y="632.0" width="3" height="3" fill="#2e3440"/>
<rect x="430.5" y="632.0" width="3" height="3" fill="#2e3440"/>
<rect x="434.7" y="632.0" width="3" height="3" fill="#2e3440"/>
<rect x="409.5" y="637.0" width="3" height="3" fill="#2e3440"/>
<rect x="413.7" y="637.0" width="3" height="3" fill="#2e3440"/>
<rect x="417.9" y="637.0" width="3" height="3" fill="#2e3440"/>
<rect x="422.1" y="637.0" width="3" height="3" fill="#2e3440"/>
<rect x="426.3" y="637.0" width="3" height="3" fill="#2e3440"/>
<rect x="430.5" y="637.0" width="3" height="3" fill="#2e3440"/>
<rect x="434.7" y="637.0" width="3" height="3" fill="#2e3440"/>
<line x1="404" y1="645" x2="447.5" y2="645" stroke="#a9af99" stroke-width="0.6"/>
<rect x="405" y="654" width="3" height="6" fill="#888"/>
<rect x="365.0" y="556.0" width="37.0" height="17.0" fill="#e6e8ea" stroke="#888" stroke-width="0.6"/><rect x="371.7" y="561.1" width="20.4" height="5.1" fill="#b03030"/><rect x="392.8" y="567.9" width="4.4" height="2.5" fill="#333"/>
<rect x="365.0" y="622.6" width="37.0" height="15.4" fill="#e6e8ea" stroke="#888" stroke-width="0.6"/><rect x="371.7" y="627.2" width="20.4" height="4.6" fill="#b03030"/><rect x="392.8" y="633.4" width="4.4" height="2.3" fill="#333"/>
<polygon fill="#1e3034" points="373.5,619 376,613 393,613 393,619"/>
<rect x="392" y="588" width="2.2" height="31" fill="#22282c"/>
<rect x="379" y="591.3" width="13.2" height="14.7" rx="2" fill="#2e3034"/>
<ellipse cx="379" cy="598.6" rx="2" ry="7.3" fill="#45484e"/>
<rect x="375" y="597.5" width="3" height="2.5" fill="#999"/>
<polygon fill="#a8d8e0" stroke="#557" stroke-width="0.5" points="393,596.5 401,598.5 401.5,596 406,601.6 400,604 400.5,601.5 393,599.5"/>
<polygon fill="#a8d4dc" stroke="#557" stroke-width="0.5" points="388,651 397,645 395,643 402,643 400,650 398,648 390,654"/>
<line x1="367" y1="668" x2="367" y2="682" stroke="#999" stroke-width="0.6"/>
<rect x="365" y="679" width="4" height="21" fill="#e0e0e0" stroke="#aaa" stroke-width="0.5"/>
<rect x="372" y="670" width="14" height="8" fill="#3a8ad0"/>
<circle cx="378.5" cy="666.5" r="11.5" fill="#3a3e45"/>
<circle cx="385.0" cy="666.5" r="1.6" fill="#3a8ad0"/>
<circle cx="381.8" cy="672.1" r="1.6" fill="#3a8ad0"/>
<circle cx="375.2" cy="672.1" r="1.6" fill="#3a8ad0"/>
<circle cx="372.0" cy="666.5" r="1.6" fill="#3a8ad0"/>
<circle cx="375.2" cy="660.9" r="1.6" fill="#3a8ad0"/>
<circle cx="381.8" cy="660.9" r="1.6" fill="#3a8ad0"/>
<line x1="389" y1="668" x2="389" y2="686" stroke="#999" stroke-width="0.6"/>
<path d="M385,688 Q387,684 389,684 Q391,684 393,688 L393,698 Q389,701 385,698 Z" fill="#2f8fe0"/>
<rect x="447.5" y="553" width="52.5" height="37" rx="6" fill="#cfe9e6" stroke="#333" stroke-width="1"/>
<polygon fill="#cfe9e6" stroke="#333" stroke-width="1" stroke-linejoin="round" points="452,586 446,595 460,589.5"/>
<rect x="451" y="588" width="10" height="1.2" fill="#cfe9e6"/>
<polygon fill="#1e2022" points="462,565 476,556 494.8,562 494.8,568 480,575.4 462,570"/>
<polygon fill="#55595e" points="462,570 480,575.4 480,577 462,572"/>
<polygon fill="#8a8e94" points="480,575.4 494.8,568 494.8,570 480,577"/>
<rect x="455" y="601.6" width="40" height="31.4" rx="6" fill="#cfe9e6" stroke="#333" stroke-width="1"/>
<polygon fill="#cfe9e6" stroke="#333" stroke-width="1" stroke-linejoin="round" points="459,627 447,638 466,632"/>
<rect x="460" y="630" width="6" height="2" fill="#cfe9e6"/>
<rect x="458.5" y="606" width="33" height="24" fill="#666d74"/>
<rect x="458.5" y="606" width="33" height="6" fill="#a4abb2"/>
<line x1="460" y1="618" x2="490" y2="618" stroke="#4a5056" stroke-width="0.8"/>
<rect x="448.4" y="661" width="48.7" height="36" fill="#5f9a5a"/>
<polygon fill="#4a8a4a" points="448.4,661 497.1,661 497.1,672 470,670 448.4,673"/>
<polygon fill="#8cc0a0" points="470,662 497.1,661.5 497.1,663 475,664"/>
<polygon fill="#2aa08a" points="475,671.5 497.1,671.5 497.1,681 480,676"/>
<polygon fill="#c8c0a0" points="450,672 468,671 474,676 460,680 450,678"/>
<polygon fill="#3a3e36" points="474,675 482,676 497.1,684 497.1,697 490,697 480,682"/>
<polygon fill="#6a7a5a" points="468,671 474,675 480,682 476,684 470,677"/>
<polygon fill="#eef4f0" points="470,679 480,683 490,697 470,697 462,690"/>
<polygon fill="#d8e8e0" points="452,690 466,684 470,697 452,697"/>
<polygon fill="#6a9a5a" points="448.4,680 458,682 452,690 448.4,692"/>
<polygon fill="#a8d8e0" stroke="#446" stroke-width="0.5" points="446.5,645.5 461.5,656.5 463,654 465.5,662 457.5,661.5 459.5,659 445,648"/>
<text x="363.6" y="585.0" font-size="8.0" fill="#1010b0" font-weight="900" textLength="38.0" lengthAdjust="spacingAndGlyphs">开度调控仪</text>
<text x="349.0" y="603.5" font-size="8.0" fill="#1010b0" font-weight="900" textLength="24.0" lengthAdjust="spacingAndGlyphs">开度变</text>
<text x="353.0" y="612.5" font-size="8.0" fill="#1010b0" font-weight="900" textLength="14.5" lengthAdjust="spacingAndGlyphs">送器</text>
<text x="357.0" y="652.0" font-size="8.0" fill="#1010b0" font-weight="900" textLength="43.0" lengthAdjust="spacingAndGlyphs">水位调控仪</text>
<text x="396.4" y="688.5" font-size="8.0" fill="#1010b0" font-weight="900" textLength="36.5" lengthAdjust="spacingAndGlyphs">浮子式水</text>
<text x="401.6" y="697.5" font-size="8.0" fill="#1010b0" font-weight="900" textLength="30.5" lengthAdjust="spacingAndGlyphs">位变送器</text>
<text x="459.4" y="587.5" font-size="8.0" fill="#1010b0" font-weight="900" textLength="35.5" lengthAdjust="spacingAndGlyphs">光纤收发器</text>
<text x="454.0" y="649.5" font-size="8.0" fill="#1010b0" font-weight="900" textLength="39.5" lengthAdjust="spacingAndGlyphs">西门子PLC</text>
<text x="399.5" y="734.0" font-size="19.5" fill="#000" font-weight="bold" text-anchor="start" textLength="89.5" lengthAdjust="spacing" >闸门控制</text>
<line x1="533.8" y1="614" x2="533.8" y2="653" stroke="#aaa" stroke-width="0.7"/>
<defs><linearGradient id="stick" x1="0" y1="0" x2="1" y2="0"><stop offset="0" stop-color="#c8c8c8"/><stop offset="0.5" stop-color="#f4f4f4"/><stop offset="1" stop-color="#a8a8a8"/></linearGradient></defs>
<rect x="531" y="652.5" width="6.2" height="29" rx="1.5" fill="url(#stick)" stroke="#999" stroke-width="0.4"/>
<rect x="540.7" y="627" width="28.3" height="11" fill="#2f90e0"/>
<circle cx="553.8" cy="614.6" r="20" fill="#3d434d"/>
<circle cx="553.8" cy="614.6" r="15.5" fill="none" stroke="#30353e" stroke-width="1"/>
<circle cx="563.7" cy="617.3" r="2.9" fill="#2f88d8"/>
<circle cx="556.5" cy="624.5" r="2.9" fill="#2f88d8"/>
<circle cx="546.5" cy="621.9" r="2.9" fill="#2f88d8"/>
<circle cx="543.9" cy="611.9" r="2.9" fill="#2f88d8"/>
<circle cx="551.1" cy="604.7" r="2.9" fill="#2f88d8"/>
<circle cx="561.1" cy="607.3" r="2.9" fill="#2f88d8"/>
<circle cx="553.8" cy="614.6" r="5.5" fill="none" stroke="#2a2f36" stroke-width="1"/>
<circle cx="553.8" cy="614.6" r="1.3" fill="#eee"/>
<line x1="573.2" y1="616" x2="573.2" y2="648" stroke="#aaa" stroke-width="0.7"/>
<path d="M569,654 Q569,647 573,647 Q577,647 577,654 L581,655.5 Q583.4,656.5 583.4,660 L583.4,671 Q583.4,674.6 579,675 L577,681.5 L569,681.5 L567,675 Q562,674.6 562,671 L562,660 Q562,656.5 565,655.5 Z" fill="#2f90e0"/>
<rect x="564" y="658" width="3" height="14" fill="#5ab0f0" opacity="0.6"/>
<g transform="rotate(22.6 612 640)">
<defs><linearGradient id="steel" x1="0" y1="0" x2="1" y2="0"><stop offset="0" stop-color="#5a5a5a"/><stop offset="0.35" stop-color="#e0e0e0"/><stop offset="0.7" stop-color="#8a8a8a"/><stop offset="1" stop-color="#4a4a4a"/></linearGradient></defs>
<rect x="605.5" y="640" width="13" height="36" fill="url(#steel)"/>
<rect x="604" y="638" width="16" height="5" fill="#333"/>
<rect x="607" y="676" width="10" height="4" fill="#777"/>
<rect x="602.5" y="612" width="19" height="27" rx="2" fill="#141416"/>
<rect x="606" y="618" width="12" height="4.5" fill="#b02424"/>
<rect x="610" y="626" width="5" height="2" fill="#ccc"/>
<rect x="604.5" y="637" width="15" height="1.5" fill="#c8a020"/>
<rect x="606" y="596" width="12" height="17" fill="#1a1a1c"/>
<rect x="617" y="599" width="7" height="10" fill="#1a1a1c"/>
</g>
<text x="558.5" y="720.0" font-size="19.5" fill="#000" font-weight="bold" text-anchor="start" textLength="92.0" lengthAdjust="spacing" >水情测报</text>
<g>
<rect x="7.3" y="459.9" width="75.2" height="163.5" fill="#e4f7ec" stroke="#9fd2b8" stroke-width="0.9"/>
<line x1="7.3" y1="467.3" x2="82.5" y2="467.3" stroke="#9fd2b8" stroke-width="0.7"/>
<line x1="7.3" y1="617" x2="82.5" y2="617" stroke="#9fd2b8" stroke-width="0.7"/>
<rect x="11.3" y="619.5" width="5" height="2.5" fill="#2a4a9a"/>
<rect x="29.3" y="619.8" width="34" height="2" fill="#5a6ab0" opacity="0.8"/>
<rect x="141.4" y="459.9" width="75.9" height="163.5" fill="#e4f7ec" stroke="#9fd2b8" stroke-width="0.9"/>
<line x1="141.4" y1="467.3" x2="217.3" y2="467.3" stroke="#9fd2b8" stroke-width="0.7"/>
<line x1="141.4" y1="617" x2="217.3" y2="617" stroke="#9fd2b8" stroke-width="0.7"/>
<rect x="145.4" y="619.5" width="5" height="2.5" fill="#2a4a9a"/>
<rect x="163.4" y="619.8" width="34" height="2" fill="#5a6ab0" opacity="0.8"/>
<text x="28.0" y="466.0" font-size="5.5" fill="#333" textLength="38.0" lengthAdjust="spacingAndGlyphs" font-family="Liberation Serif">1#机组LCU屏－2</text>
<text x="158.0" y="466.0" font-size="5.5" fill="#333" textLength="38.0" lengthAdjust="spacingAndGlyphs" font-family="Liberation Serif">1#机组LCU屏－1</text>
<path stroke="#e23a3a" stroke-width="1.3" fill="none" d="M98.4,447.3 L105.7,444 M126,440 L139.7,437.5 M160,432 Q172,424 180,430 Q184,434 184,438.5 M169.6,452.2 L138.9,463.5 M117.8,470 L109,472.4 M88,476.5 L54,479 M45.9,476.5 Q36,466 50,460 Q65,455 77.4,453.8"/>
<path stroke="#e23a3a" stroke-width="1.1" fill="none" d="M53,484 L78.9,484 L78.9,586"/>
<path stroke="#e23a3a" stroke-width="1.1" fill="none" d="M19.4,484 L33.7,484"/>
<path stroke="#e23a3a" stroke-width="1.1" fill="none" d="M19.4,484 L19.4,562"/>
<path stroke="#e23a3a" stroke-width="1.1" fill="none" d="M25.5,494 L33.7,494"/>
<path stroke="#e23a3a" stroke-width="1.1" fill="none" d="M25.5,494 L25.5,562"/>
<path stroke="#e23a3a" stroke-width="1.1" fill="none" d="M19.4,501 L66.7,501"/>
<path stroke="#e23a3a" stroke-width="1.1" fill="none" d="M72.8,501 L72.8,598"/>
<path stroke="#e23a3a" stroke-width="1.1" fill="none" d="M39,519 L47.3,519"/>
<path stroke="#e23a3a" stroke-width="1.1" fill="none" d="M64.3,538.7 L78.9,538.7"/>
<path stroke="#e23a3a" stroke-width="1.1" fill="none" d="M45,548.4 L78.9,548.4"/>
<path stroke="#e23a3a" stroke-width="1.1" fill="none" d="M49.8,552 L68,552 L68,581"/>
<path stroke="#e23a3a" stroke-width="1.1" fill="none" d="M58.3,552 L58.3,562"/>
<path stroke="#e23a3a" stroke-width="1.1" fill="none" d="M49.8,552 L49.8,562"/>
<path stroke="#e23a3a" stroke-width="1.1" fill="none" d="M64.3,581 L78.9,581"/>
<path stroke="#e23a3a" stroke-width="1.1" fill="none" d="M45,587 L85,587 L85,598"/>
<path stroke="#e23a3a" stroke-width="1.1" fill="none" d="M66,577 L90,577 L90,598"/>
<path stroke="#e23a3a" stroke-width="1.1" fill="none" d="M24,545 L28,545"/>
<path stroke="#e23a3a" stroke-width="1.1" fill="none" d="M24,520 L24,540 L28,540"/>
<polygon fill="#e23a3a" points="17.6,560.0 21.2,560.0 19.4,563.0"/>
<polygon fill="#e23a3a" points="23.7,560.0 27.3,560.0 25.5,563.0"/>
<polygon fill="#e23a3a" points="64.0,499.2 64.0,502.8 67.0,501.0"/>
<path stroke="#e23a3a" stroke-width="1.1" fill="none" d="M54,488 L154.8,520"/>
<path stroke="#e23a3a" stroke-width="1.1" fill="none" d="M80,496.8 L154.8,520"/>
<path stroke="#e23a3a" stroke-width="1.1" fill="none" d="M175,479 L175,514.6"/>
<path stroke="#e23a3a" stroke-width="1.1" fill="none" d="M170,490 L170,514.6"/>
<path stroke="#e23a3a" stroke-width="1.1" fill="none" d="M160.4,486 L165,486 L165,514.6"/>
<path stroke="#e23a3a" stroke-width="1.1" fill="none" d="M189.4,503.5 L189.4,514.6"/>
<path stroke="#e23a3a" stroke-width="1.1" fill="none" d="M201.6,492 L208,492 L208,593"/>
<path stroke="#e23a3a" stroke-width="1.1" fill="none" d="M190.5,522 L208,522"/>
<path stroke="#e23a3a" stroke-width="1.1" fill="none" d="M183,529 L183,550"/>
<path stroke="#e23a3a" stroke-width="1.1" fill="none" d="M173,529 L173,550"/>
<path stroke="#e23a3a" stroke-width="1.1" fill="none" d="M160,547 L160,563 L168,563"/>
<path stroke="#e23a3a" stroke-width="1.1" fill="none" d="M190.5,556 L200,556 L200,565"/>
<path stroke="#e23a3a" stroke-width="1.1" fill="none" d="M206,556 L206,565"/>
<path stroke="#e23a3a" stroke-width="1.1" fill="none" d="M196,575 L196,580 M214,575 L222,575 L222,604 M214,585 L229,585 L229,604"/>
<path stroke="#e23a3a" stroke-width="1.1" fill="none" d="M120,541.4 L146,541.4 L146,570 L185,570 L185,563"/>
<path stroke="#e23a3a" stroke-width="1.1" fill="none" d="M120,580.5 L185,580.5"/>
<path stroke="#e23a3a" stroke-width="1.1" fill="none" d="M184,565 L184,580.5"/>
<path stroke="#e23a3a" stroke-width="1.1" fill="none" d="M97.9,580 Q75,560 90,520"/>
<path stroke="#e23a3a" stroke-width="1.1" fill="none" d="M99,555 Q88,540 96,527"/>
<path stroke="#e23a3a" stroke-width="1.1" fill="none" d="M146,496.8 L146,496.8"/>
<path stroke="#e23a3a" stroke-width="1.1" fill="none" d="M132,496.8 L146,496.8"/>
<path stroke="#e23a3a" stroke-width="1.1" fill="none" d="M166,508 L146,508"/>
<polygon fill="#e23a3a" points="124.0,539.6 124.0,543.2 121.0,541.4"/>
<polygon fill="#e23a3a" points="124.0,578.7 124.0,582.3 121.0,580.5"/>
<polygon fill="#e23a3a" points="143.5,506.2 143.5,509.8 146.5,508.0"/>
<polygon fill="#e23a3a" points="88.7,524.0 92.3,524.0 90.5,521.0"/>
<polygon fill="#e23a3a" points="94.7,531.0 98.3,531.0 96.5,528.0"/>
<path stroke="#e23a3a" stroke-width="1.1" fill="none" d="M146,479 L146,496.8 M146,486 L147,486"/>
<polygon fill="#e23a3a" points="144.0,484.2 144.0,487.8 147.0,486.0"/>
<polygon fill="none" stroke="#e23a3a" stroke-width="0.8" points="47.8,555 51.8,555 49.8,558.5"/>
<polygon fill="none" stroke="#e23a3a" stroke-width="0.8" points="56.3,555 60.3,555 58.3,558.5"/>
<polygon fill="none" stroke="#e23a3a" stroke-width="0.8" points="198.0,555 202.0,555 200.0,558.5"/>
<polygon fill="none" stroke="#e23a3a" stroke-width="0.8" points="204.0,555 208.0,555 206.0,558.5"/>
<path stroke="#3f8fd6" stroke-width="1.1" fill="none" d="M12,592 L232,592"/>
<path stroke="#3f8fd6" stroke-width="1.1" fill="none" d="M154,529 L154,592"/>
<path stroke="#3f8fd6" stroke-width="1.1" fill="none" d="M174,529 L174,592"/>
<path stroke="#3f8fd6" stroke-width="1.1" fill="none" d="M118,555 L158,590.5"/>
<path stroke="#3f8fd6" stroke-width="1.1" fill="none" d="M118,585 L158,590.5"/>
<path stroke="#3f8fd6" stroke-width="1.1" fill="none" d="M125.8,618.4 L149,606"/>
<path stroke="#3f8fd6" stroke-width="1.1" fill="none" d="M120,600 L150,598"/>
<rect x="77.4" y="436.0" width="21.0" height="23.5" fill="#eceef2" stroke="#8a90a0" stroke-width="0.6"/><rect x="96.3" y="437.2" width="2.1" height="22.3" fill="#3a4a6a"/><rect x="80.3" y="438.8" width="2.9" height="5.6" fill="#2a2e36" rx="1"/><rect x="88.3" y="438.4" width="2.7" height="2.6" fill="#2c3038"/><rect x="92.1" y="438.4" width="2.7" height="2.6" fill="#2c3038"/><rect x="88.3" y="442.1" width="2.7" height="2.6" fill="#2c3038"/><rect x="92.1" y="442.1" width="2.7" height="2.6" fill="#2c3038"/><rect x="88.3" y="445.9" width="2.7" height="2.6" fill="#2c3038"/><rect x="92.1" y="445.9" width="2.7" height="2.6" fill="#2c3038"/><rect x="88.3" y="449.6" width="2.7" height="2.6" fill="#2c3038"/><rect x="92.1" y="449.6" width="2.7" height="2.6" fill="#2c3038"/><rect x="88.3" y="453.4" width="2.7" height="2.6" fill="#2c3038"/><rect x="92.1" y="453.4" width="2.7" height="2.6" fill="#2c3038"/><rect x="81.2" y="453.6" width="1.7" height="2.8" fill="#777"/>
<rect x="105.7" y="428.7" width="20.3" height="23.5" fill="#eceef2" stroke="#8a90a0" stroke-width="0.6"/><rect x="124.0" y="429.9" width="2.0" height="22.3" fill="#3a4a6a"/><rect x="108.5" y="431.5" width="2.8" height="5.6" fill="#2a2e36" rx="1"/><rect x="116.3" y="431.1" width="2.6" height="2.6" fill="#2c3038"/><rect x="119.9" y="431.1" width="2.6" height="2.6" fill="#2c3038"/><rect x="116.3" y="434.8" width="2.6" height="2.6" fill="#2c3038"/><rect x="119.9" y="434.8" width="2.6" height="2.6" fill="#2c3038"/><rect x="116.3" y="438.6" width="2.6" height="2.6" fill="#2c3038"/><rect x="119.9" y="438.6" width="2.6" height="2.6" fill="#2c3038"/><rect x="116.3" y="442.3" width="2.6" height="2.6" fill="#2c3038"/><rect x="119.9" y="442.3" width="2.6" height="2.6" fill="#2c3038"/><rect x="116.3" y="446.1" width="2.6" height="2.6" fill="#2c3038"/><rect x="119.9" y="446.1" width="2.6" height="2.6" fill="#2c3038"/><rect x="109.4" y="446.3" width="1.6" height="2.8" fill="#777"/>
<rect x="139.7" y="428.0" width="20.3" height="23.4" fill="#eceef2" stroke="#8a90a0" stroke-width="0.6"/><rect x="158.0" y="429.2" width="2.0" height="22.2" fill="#3a4a6a"/><rect x="142.5" y="430.8" width="2.8" height="5.6" fill="#2a2e36" rx="1"/><rect x="150.3" y="430.3" width="2.6" height="2.6" fill="#2c3038"/><rect x="153.9" y="430.3" width="2.6" height="2.6" fill="#2c3038"/><rect x="150.3" y="434.1" width="2.6" height="2.6" fill="#2c3038"/><rect x="153.9" y="434.1" width="2.6" height="2.6" fill="#2c3038"/><rect x="150.3" y="437.8" width="2.6" height="2.6" fill="#2c3038"/><rect x="153.9" y="437.8" width="2.6" height="2.6" fill="#2c3038"/><rect x="150.3" y="441.6" width="2.6" height="2.6" fill="#2c3038"/><rect x="153.9" y="441.6" width="2.6" height="2.6" fill="#2c3038"/><rect x="150.3" y="445.3" width="2.6" height="2.6" fill="#2c3038"/><rect x="153.9" y="445.3" width="2.6" height="2.6" fill="#2c3038"/><rect x="143.4" y="445.5" width="1.6" height="2.8" fill="#777"/>
<rect x="169.6" y="438.5" width="18.6" height="21.8" fill="#eceef2" stroke="#8a90a0" stroke-width="0.6"/><rect x="186.3" y="439.6" width="1.9" height="20.7" fill="#3a4a6a"/><rect x="172.2" y="441.1" width="2.6" height="5.2" fill="#2a2e36" rx="1"/><rect x="179.3" y="440.7" width="2.4" height="2.4" fill="#2c3038"/><rect x="182.6" y="440.7" width="2.4" height="2.4" fill="#2c3038"/><rect x="179.3" y="444.2" width="2.4" height="2.4" fill="#2c3038"/><rect x="182.6" y="444.2" width="2.4" height="2.4" fill="#2c3038"/><rect x="179.3" y="447.7" width="2.4" height="2.4" fill="#2c3038"/><rect x="182.6" y="447.7" width="2.4" height="2.4" fill="#2c3038"/><rect x="179.3" y="451.1" width="2.4" height="2.4" fill="#2c3038"/><rect x="182.6" y="451.1" width="2.4" height="2.4" fill="#2c3038"/><rect x="179.3" y="454.6" width="2.4" height="2.4" fill="#2c3038"/><rect x="182.6" y="454.6" width="2.4" height="2.4" fill="#2c3038"/><rect x="172.9" y="454.9" width="1.5" height="2.6" fill="#777"/>
<rect x="88.0" y="463.5" width="21.0" height="23.5" fill="#eceef2" stroke="#8a90a0" stroke-width="0.6"/><rect x="106.9" y="464.7" width="2.1" height="22.3" fill="#3a4a6a"/><rect x="90.9" y="466.3" width="2.9" height="5.6" fill="#2a2e36" rx="1"/><rect x="98.9" y="465.9" width="2.7" height="2.6" fill="#2c3038"/><rect x="102.7" y="465.9" width="2.7" height="2.6" fill="#2c3038"/><rect x="98.9" y="469.6" width="2.7" height="2.6" fill="#2c3038"/><rect x="102.7" y="469.6" width="2.7" height="2.6" fill="#2c3038"/><rect x="98.9" y="473.4" width="2.7" height="2.6" fill="#2c3038"/><rect x="102.7" y="473.4" width="2.7" height="2.6" fill="#2c3038"/><rect x="98.9" y="477.1" width="2.7" height="2.6" fill="#2c3038"/><rect x="102.7" y="477.1" width="2.7" height="2.6" fill="#2c3038"/><rect x="98.9" y="480.9" width="2.7" height="2.6" fill="#2c3038"/><rect x="102.7" y="480.9" width="2.7" height="2.6" fill="#2c3038"/><rect x="91.8" y="481.1" width="1.7" height="2.8" fill="#777"/>
<rect x="117.8" y="455.4" width="21.1" height="23.6" fill="#eceef2" stroke="#8a90a0" stroke-width="0.6"/><rect x="136.8" y="456.6" width="2.1" height="22.4" fill="#3a4a6a"/><rect x="120.8" y="458.2" width="3.0" height="5.7" fill="#2a2e36" rx="1"/><rect x="128.8" y="457.8" width="2.7" height="2.6" fill="#2c3038"/><rect x="132.6" y="457.8" width="2.7" height="2.6" fill="#2c3038"/><rect x="128.8" y="461.5" width="2.7" height="2.6" fill="#2c3038"/><rect x="132.6" y="461.5" width="2.7" height="2.6" fill="#2c3038"/><rect x="128.8" y="465.3" width="2.7" height="2.6" fill="#2c3038"/><rect x="132.6" y="465.3" width="2.7" height="2.6" fill="#2c3038"/><rect x="128.8" y="469.1" width="2.7" height="2.6" fill="#2c3038"/><rect x="132.6" y="469.1" width="2.7" height="2.6" fill="#2c3038"/><rect x="128.8" y="472.9" width="2.7" height="2.6" fill="#2c3038"/><rect x="132.6" y="472.9" width="2.7" height="2.6" fill="#2c3038"/><rect x="121.6" y="473.1" width="1.7" height="2.8" fill="#777"/>
<rect x="33.7" y="473.2" width="20.3" height="23.5" fill="#eceef2" stroke="#8a90a0" stroke-width="0.6"/><rect x="52.0" y="474.4" width="2.0" height="22.3" fill="#3a4a6a"/><rect x="36.5" y="476.0" width="2.8" height="5.6" fill="#2a2e36" rx="1"/><rect x="44.3" y="475.6" width="2.6" height="2.6" fill="#2c3038"/><rect x="47.9" y="475.6" width="2.6" height="2.6" fill="#2c3038"/><rect x="44.3" y="479.3" width="2.6" height="2.6" fill="#2c3038"/><rect x="47.9" y="479.3" width="2.6" height="2.6" fill="#2c3038"/><rect x="44.3" y="483.1" width="2.6" height="2.6" fill="#2c3038"/><rect x="47.9" y="483.1" width="2.6" height="2.6" fill="#2c3038"/><rect x="44.3" y="486.8" width="2.6" height="2.6" fill="#2c3038"/><rect x="47.9" y="486.8" width="2.6" height="2.6" fill="#2c3038"/><rect x="44.3" y="490.6" width="2.6" height="2.6" fill="#2c3038"/><rect x="47.9" y="490.6" width="2.6" height="2.6" fill="#2c3038"/><rect x="37.4" y="490.8" width="1.6" height="2.8" fill="#777"/>
<path stroke="#e23a3a" stroke-width="1.3" fill="none" d="M223,450.8 L182,450.8"/>
<polygon fill="#e23a3a" points="184.0,449.0 184.0,452.6 181.0,450.8"/>
<polygon fill="#e23a3a" points="222.5,449.0 222.5,452.6 225.5,450.8"/>
<text x="75.8" y="435.2" font-size="6.5" fill="#333" textLength="29.0" lengthAdjust="spacingAndGlyphs" font-family="Liberation Serif">其它的LCU</text>
<text x="47.5" y="451.4" font-size="6.5" fill="#333" textLength="28.0" lengthAdjust="spacingAndGlyphs" font-family="Liberation Serif">其它的LCU</text>
<text x="160.7" y="435.2" font-size="6.5" fill="#333" textLength="29.0" lengthAdjust="spacingAndGlyphs" font-family="Liberation Serif">其它的LCU</text>
<text x="112.0" y="486.2" font-size="6.5" fill="#333" textLength="28.5" lengthAdjust="spacingAndGlyphs" font-family="Liberation Serif">其它的LCU</text>
<text x="82.3" y="494.2" font-size="6.5" fill="#333" textLength="29.0" lengthAdjust="spacingAndGlyphs" font-family="Liberation Serif">其它的LCU</text>
<text x="189.8" y="447.5" font-size="6.5" fill="#333" textLength="22.0" lengthAdjust="spacingAndGlyphs" font-family="Liberation Serif">主交换机</text>
<text x="6.0" y="483.5" font-size="6.5" fill="#333" textLength="25.5" lengthAdjust="spacingAndGlyphs" font-family="Liberation Serif">赫斯曼光</text>
<text x="6.0" y="490.5" font-size="6.5" fill="#333" textLength="25.5" lengthAdjust="spacingAndGlyphs" font-family="Liberation Serif">纤交换机</text>
<text x="37.0" y="505.0" font-size="5.0" fill="#333" textLength="20.0" lengthAdjust="spacingAndGlyphs" font-family="Liberation Serif">温度巡检</text>
<text x="50.0" y="529.0" font-size="5.5" fill="#333" textLength="30.0" lengthAdjust="spacingAndGlyphs" font-family="Liberation Serif">轴振动、摆动</text>
<text x="9.7" y="587.3" font-size="7.0" fill="#333" textLength="33.0" lengthAdjust="spacingAndGlyphs" font-family="Liberation Serif">通讯管理机</text>
<text x="28.0" y="616.4" font-size="7.0" fill="#333" textLength="32.7" lengthAdjust="spacingAndGlyphs" font-family="Liberation Serif">出口继电器</text>
<text x="143.6" y="476.7" font-size="6.5" fill="#333" textLength="31.4" lengthAdjust="spacingAndGlyphs" font-family="Liberation Serif">电量变送器</text>
<text x="181.6" y="477.0" font-size="6.5" fill="#333" textLength="20.0" lengthAdjust="spacingAndGlyphs" font-family="Liberation Serif">触摸屏</text>
<text x="140.0" y="502.4" font-size="6.5" fill="#333" textLength="31.5" lengthAdjust="spacingAndGlyphs" font-family="Liberation Serif">功率变送器</text>
<text x="143.0" y="524.0" font-size="6.5" fill="#333" textLength="10.0" lengthAdjust="spacingAndGlyphs" font-family="Liberation Serif">PLC</text>
<text x="155.0" y="551.0" font-size="5.0" fill="#333" textLength="18.0" lengthAdjust="spacingAndGlyphs" font-family="Liberation Serif">微机同期</text>
<text x="189.4" y="549.0" font-size="5.0" fill="#333" textLength="20.0" lengthAdjust="spacingAndGlyphs" font-family="Liberation Serif">手动同期</text>
<text x="153.7" y="581.6" font-size="6.5" fill="#333" textLength="32.3" lengthAdjust="spacingAndGlyphs" font-family="Liberation Serif">通讯管理机</text>
<text x="163.7" y="615.2" font-size="7.0" fill="#333" textLength="30.0" lengthAdjust="spacingAndGlyphs" font-family="Liberation Serif">出口继电器</text>
<text x="122.4" y="539.5" font-size="5.5" fill="#333" textLength="16.6" lengthAdjust="spacingAndGlyphs" font-family="Liberation Serif">RS485</text>
<text x="128.0" y="578.0" font-size="5.5" fill="#333" textLength="16.7" lengthAdjust="spacingAndGlyphs" font-family="Liberation Serif">RS485</text>
<text x="122.4" y="561.5" font-size="5.0" fill="#333" textLength="24.6" lengthAdjust="spacingAndGlyphs" font-family="Liberation Serif">(防雷模块)</text>
<text x="122.4" y="601.7" font-size="5.0" fill="#333" textLength="24.6" lengthAdjust="spacingAndGlyphs" font-family="Liberation Serif">(防雷模块)</text>
<text x="72.8" y="627.3" font-size="5.0" fill="#333" textLength="26.7" lengthAdjust="spacingAndGlyphs" font-family="Liberation Serif">交直流220V</text>
<text x="217.0" y="627.3" font-size="5.0" fill="#333" textLength="26.7" lengthAdjust="spacingAndGlyphs" font-family="Liberation Serif">交直流220V</text>
<text x="19.4" y="636.5" font-size="8.0" fill="#333" textLength="53.4" lengthAdjust="spacingAndGlyphs" font-family="Liberation Serif">机组LCU屏－2</text>
<text x="153.7" y="635.0" font-size="8.0" fill="#333" textLength="51.3" lengthAdjust="spacingAndGlyphs" font-family="Liberation Serif">机组LCU屏－1</text>
<text x="84" y="602" font-size="4.5" fill="#333" writing-mode="tb">(回路遥断)</text>
<text x="218" y="602" font-size="4.5" fill="#333" writing-mode="tb">(回路遥断)</text>
<rect x="12" y="507" width="27" height="13.5" fill="#3b3e44" stroke="#222" stroke-width="0.5"/>
<rect x="14.5" y="509.5" width="14" height="3.5" fill="#d03030"/><rect x="14.5" y="514.5" width="20" height="2" fill="#888"/>
<rect x="47.3" y="506" width="31.7" height="19.4" fill="#dcd8bc" stroke="#888" stroke-width="0.5"/>
<rect x="50" y="509" width="22" height="4" fill="#b83030"/><rect x="66" y="516" width="8" height="6" fill="#3a7a9a"/>
<rect x="28" y="532" width="36.3" height="16.4" fill="#e6ebee" stroke="#8a9098" stroke-width="0.6"/>
<rect x="40" y="537.5" width="12" height="8.5" fill="#3aa6e0"/>
<rect x="37" y="525.4" width="12" height="7" fill="#c8d0d8" stroke="#999" stroke-width="0.4"/>
<polygon fill="#2a5a9a" stroke="#1a2a4a" stroke-width="0.6" points="13.3,572 36,565.4 41.3,573 18,580"/>
<polygon fill="#5ac070" points="28,569 34,567.5 35.5,570 29.5,571.5"/>
<polygon fill="#a8adb5" stroke="#555" stroke-width="0.4" points="45,565 63,562 65.5,570 47,574"/>
<polygon fill="#7a5a3a" stroke="#444" stroke-width="0.4" points="43.7,580 62,576.4 64.3,584 46,587.3"/>
<rect x="16.1" y="594.5" width="5.5" height="5" fill="#c4c8ce" stroke="#666" stroke-width="0.4"/><rect x="15.1" y="599.5" width="7.5" height="9.5" fill="#1e2024" rx="0.8"/>
<rect x="150.5" y="594.5" width="5.5" height="5" fill="#c4c8ce" stroke="#666" stroke-width="0.4"/><rect x="149.5" y="599.5" width="7.5" height="9.5" fill="#1e2024" rx="0.8"/>
<rect x="26.9" y="594.5" width="5.5" height="5" fill="#c4c8ce" stroke="#666" stroke-width="0.4"/><rect x="25.9" y="599.5" width="7.5" height="9.5" fill="#1e2024" rx="0.8"/>
<rect x="161.3" y="594.5" width="5.5" height="5" fill="#c4c8ce" stroke="#666" stroke-width="0.4"/><rect x="160.3" y="599.5" width="7.5" height="9.5" fill="#1e2024" rx="0.8"/>
<rect x="37.7" y="594.5" width="5.5" height="5" fill="#c4c8ce" stroke="#666" stroke-width="0.4"/><rect x="36.7" y="599.5" width="7.5" height="9.5" fill="#1e2024" rx="0.8"/>
<rect x="172.1" y="594.5" width="5.5" height="5" fill="#c4c8ce" stroke="#666" stroke-width="0.4"/><rect x="171.1" y="599.5" width="7.5" height="9.5" fill="#1e2024" rx="0.8"/>
<rect x="48.5" y="594.5" width="5.5" height="5" fill="#c4c8ce" stroke="#666" stroke-width="0.4"/><rect x="47.5" y="599.5" width="7.5" height="9.5" fill="#1e2024" rx="0.8"/>
<rect x="182.9" y="594.5" width="5.5" height="5" fill="#c4c8ce" stroke="#666" stroke-width="0.4"/><rect x="181.9" y="599.5" width="7.5" height="9.5" fill="#1e2024" rx="0.8"/>
<rect x="59.3" y="594.5" width="5.5" height="5" fill="#c4c8ce" stroke="#666" stroke-width="0.4"/><rect x="58.3" y="599.5" width="7.5" height="9.5" fill="#1e2024" rx="0.8"/>
<rect x="193.7" y="594.5" width="5.5" height="5" fill="#c4c8ce" stroke="#666" stroke-width="0.4"/><rect x="192.7" y="599.5" width="7.5" height="9.5" fill="#1e2024" rx="0.8"/>
<rect x="70.1" y="594.5" width="5.5" height="5" fill="#c4c8ce" stroke="#666" stroke-width="0.4"/><rect x="69.1" y="599.5" width="7.5" height="9.5" fill="#1e2024" rx="0.8"/>
<rect x="204.5" y="594.5" width="5.5" height="5" fill="#c4c8ce" stroke="#666" stroke-width="0.4"/><rect x="203.5" y="599.5" width="7.5" height="9.5" fill="#1e2024" rx="0.8"/>
<rect x="85.0" y="601" width="4.6" height="12" fill="#3a8ad8" stroke="#1a3a6a" stroke-width="0.5"/>
<rect x="85.0" y="604.5" width="4.6" height="3" fill="#e8eef4"/>
<rect x="92.0" y="601" width="4.6" height="12" fill="#3a8ad8" stroke="#1a3a6a" stroke-width="0.5"/>
<rect x="92.0" y="604.5" width="4.6" height="3" fill="#e8eef4"/>
<rect x="219.0" y="601" width="4.6" height="12" fill="#3a8ad8" stroke="#1a3a6a" stroke-width="0.5"/>
<rect x="219.0" y="604.5" width="4.6" height="3" fill="#e8eef4"/>
<rect x="226.0" y="601" width="4.6" height="12" fill="#3a8ad8" stroke="#1a3a6a" stroke-width="0.5"/>
<rect x="226.0" y="604.5" width="4.6" height="3" fill="#e8eef4"/>
<rect x="147" y="479" width="13.4" height="14.4" fill="#e8e8ea" stroke="#777" stroke-width="0.5"/>
<rect x="150.5" y="481.5" width="7.5" height="9" fill="#c02a2a"/>
<rect x="177" y="481" width="24.6" height="22.5" fill="#25272c"/>
<rect x="180.5" y="484.5" width="17" height="14.5" fill="#3aa8a0"/><rect x="183" y="494" width="12" height="3" fill="#c8c040"/>
<rect x="146" y="503.5" width="20" height="8.9" fill="#24407a"/>
<rect x="151" y="505.5" width="9" height="4.5" fill="#70d070"/>
<rect x="154.8" y="514.6" width="35.7" height="14.4" fill="#eef0f2" stroke="#777" stroke-width="0.5"/>
<rect x="156.5" y="517" width="32" height="3" fill="#8a8e96"/>
<rect x="157.0" y="521" width="3" height="6" fill="#556"/>
<rect x="162.5" y="521" width="3" height="6" fill="#556"/>
<rect x="168.0" y="521" width="3" height="6" fill="#556"/>
<rect x="173.5" y="521" width="3" height="6" fill="#556"/>
<rect x="179.0" y="521" width="3" height="6" fill="#556"/>
<rect x="184.5" y="521" width="3" height="6" fill="#556"/>
<rect x="154.8" y="531.4" width="11.2" height="15.6" fill="#dfe4e8" stroke="#888" stroke-width="0.5"/>
<rect x="156.5" y="533" width="8" height="4" fill="#9ab"/>
<rect x="189.4" y="534.7" width="16.6" height="9" fill="#eef1f4" stroke="#aab" stroke-width="0.5"/>
<polygon fill="#2a5a9a" stroke="#1a2a4a" stroke-width="0.6" points="162.6,556 186,550 190.5,558 167,563.75"/>
<polygon fill="#a8adb5" stroke="#555" stroke-width="0.4" points="196,568 214,565 216,572 198,575.5"/>
<polygon fill="#7a5a3a" stroke="#444" stroke-width="0.4" points="193.8,583.5 212,580.5 214,587 196,589.4"/>
<defs><linearGradient id="turbg" x1="0" y1="0" x2="1" y2="0"><stop offset="0" stop-color="#2f7f98"/><stop offset="0.5" stop-color="#7cc4d8"/><stop offset="1" stop-color="#2a6f88"/></linearGradient></defs>
<polygon fill="url(#turbg)" points="104,497 118,497 119,506 129,510 131.5,517 125,523 97,523 90,517 92.5,510 103,506"/>
<rect x="100" y="516" width="4" height="10" fill="#1f5a70"/><rect x="118" y="516" width="4" height="10" fill="#1f5a70"/>
<ellipse cx="111" cy="510" rx="9" ry="3" fill="#4aa0b8"/>
<rect x="103" y="537" width="14" height="17" fill="#eef2f6" stroke="#8a96a4" stroke-width="0.5"/>
<rect x="107" y="540" width="7" height="6" fill="#3a7ac8"/>
<rect x="99" y="554" width="21" height="14" fill="#e4e8ea" stroke="#999" stroke-width="0.5"/>
<rect x="100" y="543" width="3" height="10" fill="#4a80c0"/>
<rect x="97.9" y="573.8" width="22" height="31" fill="#e8ecee" stroke="#9aa0a8" stroke-width="0.5"/>
<line x1="109" y1="574" x2="109" y2="604.8" stroke="#b0b6bc" stroke-width="0.5"/>
<rect x="100" y="578" width="6" height="5" fill="#a8b4b8"/><rect x="100" y="585" width="6" height="1.5" fill="#6a7"/><rect x="111" y="585" width="6" height="1.5" fill="#6a7"/>
<rect x="132.5" y="542.5" width="4.5" height="12.5" rx="1" fill="#7ab0e0" stroke="#3a6aa0" stroke-width="0.4"/>
<line x1="134.7" y1="555.0" x2="134.7" y2="557.5" stroke="#555" stroke-width="0.5"/>
<rect x="132.5" y="582.7" width="4.5" height="12.5" rx="1" fill="#7ab0e0" stroke="#3a6aa0" stroke-width="0.4"/>
<line x1="134.7" y1="595.2" x2="134.7" y2="597.7" stroke="#555" stroke-width="0.5"/>
<circle cx="115.5" cy="621" r="11.5" fill="#6a6a90" stroke="#4a4a6a" stroke-width="0.6"/>
<circle cx="115.5" cy="621" r="7.5" fill="#e4e4ee"/>
<rect x="108" y="618" width="15" height="6" fill="#25252e"/>
<polygon fill="#8a8aa8" points="124,612 130,610 131,616 126,616"/>
<polygon fill="#2f3238" stroke="#5a5e66" stroke-width="0.9" points="240.0,458.0 265.0,457.5 270.5,462.0 270.0,463.5 242.0,466.0 238.7,464.0"/><line x1="241.9" y1="460.8" x2="264.4" y2="458.6" stroke="#555a62" stroke-width="0.6" stroke-dasharray="1.5,1"/><line x1="241.9" y1="463.1" x2="265.5" y2="459.5" stroke="#555a62" stroke-width="0.6" stroke-dasharray="1.5,1"/><line x1="241.8" y1="465.4" x2="266.6" y2="460.4" stroke="#555a62" stroke-width="0.6" stroke-dasharray="1.5,1"/><rect x="238.0" y="436.0" width="22.0" height="23.0" fill="url(#monfr)" rx="1.5"/><rect x="240.0" y="438.0" width="18.0" height="17.0" fill="#f2f4f6"/><rect x="245.0" y="456.8" width="8.0" height="1.4" fill="#aab"/><rect x="225.7" y="436.0" width="13.0" height="27.3" fill="url(#towerg)" stroke="#3a3d44" stroke-width="0.8" rx="1"/><rect x="226.6" y="437.0" width="11.2" height="3.0" fill="#26292e"/><line x1="226.3" y1="443.6" x2="238.0" y2="443.6" stroke="#5a6068" stroke-width="0.7"/><path d="M225.7,455.1 Q232.2,458.9 238.7,455.1 L238.7,463.3 L225.7,463.3 Z" fill="#3b3f46"/><ellipse cx="232.2" cy="453.2" rx="1.7" ry="1.0" fill="#dfe2e6" stroke="#444" stroke-width="0.6"/><rect x="229.6" y="460.0" width="5.2" height="1.4" rx="1.5" fill="#1c1e22"/>
<rect x="242.0" y="448" width="2" height="5" fill="#3a80c8"/>
<rect x="245.2" y="448" width="2" height="5" fill="#3a80c8"/>
<rect x="248.4" y="448" width="2" height="5" fill="#999"/>
<rect x="251.6" y="448" width="2" height="5" fill="#c33"/>
<rect x="254.8" y="448" width="2" height="5" fill="#999"/>
<text x="230.0" y="477.7" font-size="6.5" fill="#333" textLength="32.0" lengthAdjust="spacingAndGlyphs" font-family="Liberation Serif">上位机系统</text>
</g>
<text x="51.4" y="673.5" font-size="19.5" fill="#000" font-weight="bold" text-anchor="start" textLength="91.3" lengthAdjust="spacing" >机组控制</text>
</svg></body></html>
